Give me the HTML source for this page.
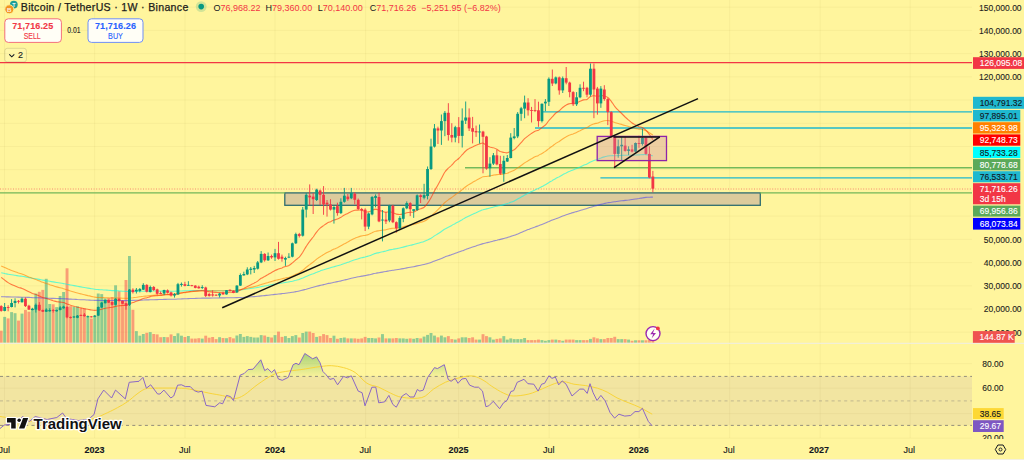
<!DOCTYPE html>
<html><head><meta charset="utf-8"><style>
html,body{margin:0;padding:0;width:1024px;height:460px;overflow:hidden;background:#FFF59D;}
svg{position:absolute;left:0;top:0;display:block;}
</style></head><body>
<svg width="1024" height="460" viewBox="0 0 1024 460">
<line x1="0" y1="332.2" x2="972" y2="332.2" stroke="rgba(120,110,40,0.055)" stroke-width="1"/>
<line x1="0" y1="309.0" x2="972" y2="309.0" stroke="rgba(120,110,40,0.055)" stroke-width="1"/>
<line x1="0" y1="285.8" x2="972" y2="285.8" stroke="rgba(120,110,40,0.055)" stroke-width="1"/>
<line x1="0" y1="262.6" x2="972" y2="262.6" stroke="rgba(120,110,40,0.055)" stroke-width="1"/>
<line x1="0" y1="239.3" x2="972" y2="239.3" stroke="rgba(120,110,40,0.055)" stroke-width="1"/>
<line x1="0" y1="216.1" x2="972" y2="216.1" stroke="rgba(120,110,40,0.055)" stroke-width="1"/>
<line x1="0" y1="192.9" x2="972" y2="192.9" stroke="rgba(120,110,40,0.055)" stroke-width="1"/>
<line x1="0" y1="169.7" x2="972" y2="169.7" stroke="rgba(120,110,40,0.055)" stroke-width="1"/>
<line x1="0" y1="146.5" x2="972" y2="146.5" stroke="rgba(120,110,40,0.055)" stroke-width="1"/>
<line x1="0" y1="123.3" x2="972" y2="123.3" stroke="rgba(120,110,40,0.055)" stroke-width="1"/>
<line x1="0" y1="100.0" x2="972" y2="100.0" stroke="rgba(120,110,40,0.055)" stroke-width="1"/>
<line x1="0" y1="76.8" x2="972" y2="76.8" stroke="rgba(120,110,40,0.055)" stroke-width="1"/>
<line x1="0" y1="53.6" x2="972" y2="53.6" stroke="rgba(120,110,40,0.055)" stroke-width="1"/>
<line x1="0" y1="30.4" x2="972" y2="30.4" stroke="rgba(120,110,40,0.055)" stroke-width="1"/>
<line x1="0" y1="7.2" x2="972" y2="7.2" stroke="rgba(120,110,40,0.055)" stroke-width="1"/>
<line x1="0" y1="363.7" x2="972" y2="363.7" stroke="rgba(120,110,40,0.055)" stroke-width="1"/>
<line x1="0" y1="388.2" x2="972" y2="388.2" stroke="rgba(120,110,40,0.055)" stroke-width="1"/>
<line x1="0" y1="413.6" x2="972" y2="413.6" stroke="rgba(120,110,40,0.055)" stroke-width="1"/>
<line x1="0" y1="438.2" x2="972" y2="438.2" stroke="rgba(120,110,40,0.055)" stroke-width="1"/>
<line x1="4.5" y1="0" x2="4.5" y2="438" stroke="rgba(120,110,40,0.055)" stroke-width="1"/>
<line x1="94.6" y1="0" x2="94.6" y2="438" stroke="rgba(120,110,40,0.055)" stroke-width="1"/>
<line x1="185" y1="0" x2="185" y2="438" stroke="rgba(120,110,40,0.055)" stroke-width="1"/>
<line x1="275" y1="0" x2="275" y2="438" stroke="rgba(120,110,40,0.055)" stroke-width="1"/>
<line x1="365.6" y1="0" x2="365.6" y2="438" stroke="rgba(120,110,40,0.055)" stroke-width="1"/>
<line x1="458.6" y1="0" x2="458.6" y2="438" stroke="rgba(120,110,40,0.055)" stroke-width="1"/>
<line x1="549.2" y1="0" x2="549.2" y2="438" stroke="rgba(120,110,40,0.055)" stroke-width="1"/>
<line x1="639.2" y1="0" x2="639.2" y2="438" stroke="rgba(120,110,40,0.055)" stroke-width="1"/>
<line x1="729.7" y1="0" x2="729.7" y2="438" stroke="rgba(120,110,40,0.055)" stroke-width="1"/>
<line x1="820.2" y1="0" x2="820.2" y2="438" stroke="rgba(120,110,40,0.055)" stroke-width="1"/>
<line x1="910.2" y1="0" x2="910.2" y2="438" stroke="rgba(120,110,40,0.055)" stroke-width="1"/>
<rect x="284.8" y="192.9" width="475.5" height="12.4" fill="#DCCB9C" stroke="#2F6E70" stroke-width="1.3"/>
<line x1="0" y1="62.7" x2="972" y2="62.7" stroke="#F23645" stroke-width="1.2"/>
<line x1="543" y1="111.9" x2="972" y2="111.9" stroke="#1FB8CF" stroke-width="1.4"/>
<line x1="535" y1="128" x2="972" y2="128" stroke="#1FB8CF" stroke-width="1.4"/>
<line x1="465" y1="167.8" x2="972" y2="167.8" stroke="#74B95B" stroke-width="1.4"/>
<line x1="600.4" y1="177.9" x2="972" y2="177.9" stroke="#1FB8CF" stroke-width="1.4"/>
<line x1="0" y1="192.9" x2="285" y2="192.9" stroke="#74B95B" stroke-width="1.4"/>
<line x1="760" y1="192.9" x2="972" y2="192.9" stroke="#74B95B" stroke-width="1.4"/>
<line x1="0" y1="189" x2="972" y2="189" stroke="#F58A70" stroke-width="1" stroke-dasharray="1,1.6"/>
<rect x="-0.26" y="330.7" width="2.9" height="12.1" fill="rgba(242,54,69,0.45)"/>
<rect x="3.21" y="316.9" width="2.9" height="25.9" fill="rgba(8,153,129,0.45)"/>
<rect x="6.68" y="318.4" width="2.9" height="24.4" fill="rgba(242,54,69,0.45)"/>
<rect x="10.14" y="312.1" width="2.9" height="30.7" fill="rgba(8,153,129,0.45)"/>
<rect x="13.61" y="313.2" width="2.9" height="29.6" fill="rgba(8,153,129,0.45)"/>
<rect x="17.07" y="320.6" width="2.9" height="22.2" fill="rgba(242,54,69,0.45)"/>
<rect x="20.54" y="313.6" width="2.9" height="29.2" fill="rgba(8,153,129,0.45)"/>
<rect x="24.01" y="309.9" width="2.9" height="32.9" fill="rgba(242,54,69,0.45)"/>
<rect x="27.47" y="311.7" width="2.9" height="31.1" fill="rgba(242,54,69,0.45)"/>
<rect x="30.94" y="309.0" width="2.9" height="33.8" fill="rgba(8,153,129,0.45)"/>
<rect x="34.41" y="293.6" width="2.9" height="49.2" fill="rgba(8,153,129,0.45)"/>
<rect x="37.87" y="291.8" width="2.9" height="51.0" fill="rgba(242,54,69,0.45)"/>
<rect x="41.34" y="289.9" width="2.9" height="52.9" fill="rgba(242,54,69,0.45)"/>
<rect x="44.80" y="278.8" width="2.9" height="64.0" fill="rgba(8,153,129,0.45)"/>
<rect x="48.27" y="304.0" width="2.9" height="38.8" fill="rgba(8,153,129,0.45)"/>
<rect x="51.74" y="304.3" width="2.9" height="38.5" fill="rgba(242,54,69,0.45)"/>
<rect x="55.20" y="307.1" width="2.9" height="35.7" fill="rgba(8,153,129,0.45)"/>
<rect x="58.67" y="296.0" width="2.9" height="46.8" fill="rgba(8,153,129,0.45)"/>
<rect x="62.14" y="292.0" width="2.9" height="50.8" fill="rgba(8,153,129,0.45)"/>
<rect x="65.60" y="268.3" width="2.9" height="74.5" fill="rgba(242,54,69,0.45)"/>
<rect x="69.07" y="306.2" width="2.9" height="36.6" fill="rgba(242,54,69,0.45)"/>
<rect x="72.53" y="306.8" width="2.9" height="36.0" fill="rgba(8,153,129,0.45)"/>
<rect x="76.00" y="306.2" width="2.9" height="36.6" fill="rgba(8,153,129,0.45)"/>
<rect x="79.47" y="308.2" width="2.9" height="34.6" fill="rgba(242,54,69,0.45)"/>
<rect x="82.93" y="308.2" width="2.9" height="34.6" fill="rgba(242,54,69,0.45)"/>
<rect x="86.40" y="316.6" width="2.9" height="26.2" fill="rgba(8,153,129,0.45)"/>
<rect x="89.87" y="318.6" width="2.9" height="24.2" fill="rgba(242,54,69,0.45)"/>
<rect x="93.33" y="316.0" width="2.9" height="26.8" fill="rgba(8,153,129,0.45)"/>
<rect x="96.80" y="293.5" width="2.9" height="49.3" fill="rgba(8,153,129,0.45)"/>
<rect x="100.27" y="294.1" width="2.9" height="48.7" fill="rgba(8,153,129,0.45)"/>
<rect x="103.73" y="298.4" width="2.9" height="44.4" fill="rgba(8,153,129,0.45)"/>
<rect x="107.20" y="298.0" width="2.9" height="44.8" fill="rgba(242,54,69,0.45)"/>
<rect x="110.66" y="297.0" width="2.9" height="45.8" fill="rgba(242,54,69,0.45)"/>
<rect x="114.13" y="285.3" width="2.9" height="57.5" fill="rgba(8,153,129,0.45)"/>
<rect x="117.60" y="291.2" width="2.9" height="51.6" fill="rgba(242,54,69,0.45)"/>
<rect x="121.06" y="300.0" width="2.9" height="42.8" fill="rgba(242,54,69,0.45)"/>
<rect x="124.53" y="280.0" width="2.9" height="62.8" fill="rgba(242,54,69,0.45)"/>
<rect x="128.00" y="256.0" width="2.9" height="86.8" fill="rgba(8,153,129,0.45)"/>
<rect x="131.46" y="309.8" width="2.9" height="33.0" fill="rgba(242,54,69,0.45)"/>
<rect x="134.93" y="331.1" width="2.9" height="11.7" fill="rgba(8,153,129,0.45)"/>
<rect x="138.39" y="335.7" width="2.9" height="7.1" fill="rgba(8,153,129,0.45)"/>
<rect x="141.86" y="334.0" width="2.9" height="8.8" fill="rgba(8,153,129,0.45)"/>
<rect x="145.33" y="332.8" width="2.9" height="10.0" fill="rgba(242,54,69,0.45)"/>
<rect x="148.79" y="332.1" width="2.9" height="10.7" fill="rgba(8,153,129,0.45)"/>
<rect x="152.26" y="334.0" width="2.9" height="8.8" fill="rgba(242,54,69,0.45)"/>
<rect x="155.73" y="334.4" width="2.9" height="8.4" fill="rgba(242,54,69,0.45)"/>
<rect x="159.19" y="337.2" width="2.9" height="5.6" fill="rgba(242,54,69,0.45)"/>
<rect x="162.66" y="337.0" width="2.9" height="5.8" fill="rgba(8,153,129,0.45)"/>
<rect x="166.12" y="337.2" width="2.9" height="5.6" fill="rgba(242,54,69,0.45)"/>
<rect x="169.59" y="334.4" width="2.9" height="8.4" fill="rgba(242,54,69,0.45)"/>
<rect x="173.06" y="336.0" width="2.9" height="6.8" fill="rgba(8,153,129,0.45)"/>
<rect x="176.52" y="333.3" width="2.9" height="9.5" fill="rgba(8,153,129,0.45)"/>
<rect x="179.99" y="335.7" width="2.9" height="7.1" fill="rgba(8,153,129,0.45)"/>
<rect x="183.46" y="337.0" width="2.9" height="5.8" fill="rgba(242,54,69,0.45)"/>
<rect x="186.92" y="336.0" width="2.9" height="6.8" fill="rgba(8,153,129,0.45)"/>
<rect x="190.39" y="338.6" width="2.9" height="4.2" fill="rgba(242,54,69,0.45)"/>
<rect x="193.86" y="338.6" width="2.9" height="4.2" fill="rgba(242,54,69,0.45)"/>
<rect x="197.32" y="338.2" width="2.9" height="4.6" fill="rgba(242,54,69,0.45)"/>
<rect x="200.79" y="338.6" width="2.9" height="4.2" fill="rgba(8,153,129,0.45)"/>
<rect x="204.25" y="335.7" width="2.9" height="7.1" fill="rgba(242,54,69,0.45)"/>
<rect x="207.72" y="337.7" width="2.9" height="5.1" fill="rgba(242,54,69,0.45)"/>
<rect x="211.19" y="337.0" width="2.9" height="5.8" fill="rgba(242,54,69,0.45)"/>
<rect x="214.65" y="339.1" width="2.9" height="3.7" fill="rgba(242,54,69,0.45)"/>
<rect x="218.12" y="337.2" width="2.9" height="5.6" fill="rgba(8,153,129,0.45)"/>
<rect x="221.59" y="338.0" width="2.9" height="4.8" fill="rgba(242,54,69,0.45)"/>
<rect x="225.05" y="338.2" width="2.9" height="4.6" fill="rgba(8,153,129,0.45)"/>
<rect x="228.52" y="337.1" width="2.9" height="5.7" fill="rgba(242,54,69,0.45)"/>
<rect x="231.98" y="338.4" width="2.9" height="4.4" fill="rgba(242,54,69,0.45)"/>
<rect x="235.45" y="335.5" width="2.9" height="7.3" fill="rgba(8,153,129,0.45)"/>
<rect x="238.92" y="334.0" width="2.9" height="8.8" fill="rgba(8,153,129,0.45)"/>
<rect x="242.38" y="336.9" width="2.9" height="5.9" fill="rgba(8,153,129,0.45)"/>
<rect x="245.85" y="336.1" width="2.9" height="6.7" fill="rgba(8,153,129,0.45)"/>
<rect x="249.32" y="336.9" width="2.9" height="5.9" fill="rgba(8,153,129,0.45)"/>
<rect x="252.78" y="337.5" width="2.9" height="5.3" fill="rgba(8,153,129,0.45)"/>
<rect x="256.25" y="337.5" width="2.9" height="5.3" fill="rgba(8,153,129,0.45)"/>
<rect x="259.72" y="335.1" width="2.9" height="7.7" fill="rgba(8,153,129,0.45)"/>
<rect x="263.18" y="335.5" width="2.9" height="7.3" fill="rgba(242,54,69,0.45)"/>
<rect x="266.65" y="336.9" width="2.9" height="5.9" fill="rgba(8,153,129,0.45)"/>
<rect x="270.11" y="337.5" width="2.9" height="5.3" fill="rgba(242,54,69,0.45)"/>
<rect x="273.58" y="335.1" width="2.9" height="7.7" fill="rgba(8,153,129,0.45)"/>
<rect x="277.05" y="331.6" width="2.9" height="11.2" fill="rgba(242,54,69,0.45)"/>
<rect x="280.51" y="336.9" width="2.9" height="5.9" fill="rgba(242,54,69,0.45)"/>
<rect x="283.98" y="336.1" width="2.9" height="6.7" fill="rgba(8,153,129,0.45)"/>
<rect x="287.45" y="338.0" width="2.9" height="4.8" fill="rgba(8,153,129,0.45)"/>
<rect x="290.91" y="336.1" width="2.9" height="6.7" fill="rgba(8,153,129,0.45)"/>
<rect x="294.38" y="335.1" width="2.9" height="7.7" fill="rgba(8,153,129,0.45)"/>
<rect x="297.84" y="337.5" width="2.9" height="5.3" fill="rgba(242,54,69,0.45)"/>
<rect x="301.31" y="333.0" width="2.9" height="9.8" fill="rgba(8,153,129,0.45)"/>
<rect x="304.78" y="331.6" width="2.9" height="11.2" fill="rgba(8,153,129,0.45)"/>
<rect x="308.24" y="331.6" width="2.9" height="11.2" fill="rgba(242,54,69,0.45)"/>
<rect x="311.71" y="333.0" width="2.9" height="9.8" fill="rgba(242,54,69,0.45)"/>
<rect x="315.18" y="336.9" width="2.9" height="5.9" fill="rgba(8,153,129,0.45)"/>
<rect x="318.64" y="336.1" width="2.9" height="6.7" fill="rgba(242,54,69,0.45)"/>
<rect x="322.11" y="334.1" width="2.9" height="8.7" fill="rgba(242,54,69,0.45)"/>
<rect x="325.57" y="335.1" width="2.9" height="7.7" fill="rgba(242,54,69,0.45)"/>
<rect x="329.04" y="338.0" width="2.9" height="4.8" fill="rgba(242,54,69,0.45)"/>
<rect x="332.51" y="335.7" width="2.9" height="7.1" fill="rgba(8,153,129,0.45)"/>
<rect x="335.97" y="338.8" width="2.9" height="4.0" fill="rgba(242,54,69,0.45)"/>
<rect x="339.44" y="338.0" width="2.9" height="4.8" fill="rgba(8,153,129,0.45)"/>
<rect x="342.91" y="337.5" width="2.9" height="5.3" fill="rgba(8,153,129,0.45)"/>
<rect x="346.37" y="338.4" width="2.9" height="4.4" fill="rgba(242,54,69,0.45)"/>
<rect x="349.84" y="338.4" width="2.9" height="4.4" fill="rgba(8,153,129,0.45)"/>
<rect x="353.31" y="338.4" width="2.9" height="4.4" fill="rgba(242,54,69,0.45)"/>
<rect x="356.77" y="338.8" width="2.9" height="4.0" fill="rgba(242,54,69,0.45)"/>
<rect x="360.24" y="338.4" width="2.9" height="4.4" fill="rgba(242,54,69,0.45)"/>
<rect x="363.70" y="336.9" width="2.9" height="5.9" fill="rgba(242,54,69,0.45)"/>
<rect x="367.17" y="338.0" width="2.9" height="4.8" fill="rgba(8,153,129,0.45)"/>
<rect x="370.64" y="338.0" width="2.9" height="4.8" fill="rgba(8,153,129,0.45)"/>
<rect x="374.10" y="338.4" width="2.9" height="4.4" fill="rgba(8,153,129,0.45)"/>
<rect x="377.57" y="337.5" width="2.9" height="5.3" fill="rgba(242,54,69,0.45)"/>
<rect x="381.04" y="334.1" width="2.9" height="8.7" fill="rgba(8,153,129,0.45)"/>
<rect x="384.50" y="338.4" width="2.9" height="4.4" fill="rgba(242,54,69,0.45)"/>
<rect x="387.97" y="338.4" width="2.9" height="4.4" fill="rgba(8,153,129,0.45)"/>
<rect x="391.43" y="338.4" width="2.9" height="4.4" fill="rgba(242,54,69,0.45)"/>
<rect x="394.90" y="338.0" width="2.9" height="4.8" fill="rgba(242,54,69,0.45)"/>
<rect x="398.37" y="338.4" width="2.9" height="4.4" fill="rgba(8,153,129,0.45)"/>
<rect x="401.83" y="338.4" width="2.9" height="4.4" fill="rgba(8,153,129,0.45)"/>
<rect x="405.30" y="338.8" width="2.9" height="4.0" fill="rgba(8,153,129,0.45)"/>
<rect x="408.77" y="338.4" width="2.9" height="4.4" fill="rgba(242,54,69,0.45)"/>
<rect x="412.23" y="338.8" width="2.9" height="4.0" fill="rgba(8,153,129,0.45)"/>
<rect x="415.70" y="338.0" width="2.9" height="4.8" fill="rgba(8,153,129,0.45)"/>
<rect x="419.16" y="338.4" width="2.9" height="4.4" fill="rgba(242,54,69,0.45)"/>
<rect x="422.63" y="336.6" width="2.9" height="6.2" fill="rgba(8,153,129,0.45)"/>
<rect x="426.10" y="334.9" width="2.9" height="7.9" fill="rgba(8,153,129,0.45)"/>
<rect x="429.56" y="333.0" width="2.9" height="9.8" fill="rgba(8,153,129,0.45)"/>
<rect x="433.03" y="335.6" width="2.9" height="7.2" fill="rgba(8,153,129,0.45)"/>
<rect x="436.50" y="337.3" width="2.9" height="5.5" fill="rgba(242,54,69,0.45)"/>
<rect x="439.96" y="335.6" width="2.9" height="7.2" fill="rgba(8,153,129,0.45)"/>
<rect x="443.43" y="337.3" width="2.9" height="5.5" fill="rgba(8,153,129,0.45)"/>
<rect x="446.90" y="336.1" width="2.9" height="6.7" fill="rgba(242,54,69,0.45)"/>
<rect x="450.36" y="339.1" width="2.9" height="3.7" fill="rgba(242,54,69,0.45)"/>
<rect x="453.83" y="339.6" width="2.9" height="3.2" fill="rgba(8,153,129,0.45)"/>
<rect x="457.29" y="338.4" width="2.9" height="4.4" fill="rgba(242,54,69,0.45)"/>
<rect x="460.76" y="337.3" width="2.9" height="5.5" fill="rgba(8,153,129,0.45)"/>
<rect x="464.23" y="337.3" width="2.9" height="5.5" fill="rgba(8,153,129,0.45)"/>
<rect x="467.69" y="338.0" width="2.9" height="4.8" fill="rgba(242,54,69,0.45)"/>
<rect x="471.16" y="337.3" width="2.9" height="5.5" fill="rgba(242,54,69,0.45)"/>
<rect x="474.63" y="339.6" width="2.9" height="3.2" fill="rgba(242,54,69,0.45)"/>
<rect x="478.09" y="339.6" width="2.9" height="3.2" fill="rgba(8,153,129,0.45)"/>
<rect x="481.56" y="334.2" width="2.9" height="8.6" fill="rgba(242,54,69,0.45)"/>
<rect x="485.02" y="336.1" width="2.9" height="6.7" fill="rgba(242,54,69,0.45)"/>
<rect x="488.49" y="337.3" width="2.9" height="5.5" fill="rgba(8,153,129,0.45)"/>
<rect x="491.96" y="339.6" width="2.9" height="3.2" fill="rgba(8,153,129,0.45)"/>
<rect x="495.42" y="338.9" width="2.9" height="3.9" fill="rgba(242,54,69,0.45)"/>
<rect x="498.89" y="338.4" width="2.9" height="4.4" fill="rgba(242,54,69,0.45)"/>
<rect x="502.36" y="336.1" width="2.9" height="6.7" fill="rgba(8,153,129,0.45)"/>
<rect x="505.82" y="339.6" width="2.9" height="3.2" fill="rgba(8,153,129,0.45)"/>
<rect x="509.29" y="338.4" width="2.9" height="4.4" fill="rgba(8,153,129,0.45)"/>
<rect x="512.75" y="339.1" width="2.9" height="3.7" fill="rgba(8,153,129,0.45)"/>
<rect x="516.22" y="339.1" width="2.9" height="3.7" fill="rgba(8,153,129,0.45)"/>
<rect x="519.69" y="339.1" width="2.9" height="3.7" fill="rgba(8,153,129,0.45)"/>
<rect x="523.15" y="338.0" width="2.9" height="4.8" fill="rgba(8,153,129,0.45)"/>
<rect x="526.62" y="340.1" width="2.9" height="2.7" fill="rgba(242,54,69,0.45)"/>
<rect x="530.09" y="340.1" width="2.9" height="2.7" fill="rgba(242,54,69,0.45)"/>
<rect x="533.55" y="340.1" width="2.9" height="2.7" fill="rgba(242,54,69,0.45)"/>
<rect x="537.02" y="339.6" width="2.9" height="3.2" fill="rgba(242,54,69,0.45)"/>
<rect x="540.49" y="340.1" width="2.9" height="2.7" fill="rgba(8,153,129,0.45)"/>
<rect x="543.95" y="340.8" width="2.9" height="2.0" fill="rgba(8,153,129,0.45)"/>
<rect x="547.42" y="340.1" width="2.9" height="2.7" fill="rgba(8,153,129,0.45)"/>
<rect x="550.88" y="339.6" width="2.9" height="3.2" fill="rgba(242,54,69,0.45)"/>
<rect x="554.35" y="339.6" width="2.9" height="3.2" fill="rgba(8,153,129,0.45)"/>
<rect x="557.82" y="340.1" width="2.9" height="2.7" fill="rgba(242,54,69,0.45)"/>
<rect x="561.28" y="340.8" width="2.9" height="2.0" fill="rgba(8,153,129,0.45)"/>
<rect x="564.75" y="339.6" width="2.9" height="3.2" fill="rgba(242,54,69,0.45)"/>
<rect x="568.22" y="339.6" width="2.9" height="3.2" fill="rgba(242,54,69,0.45)"/>
<rect x="571.68" y="339.6" width="2.9" height="3.2" fill="rgba(242,54,69,0.45)"/>
<rect x="575.15" y="340.1" width="2.9" height="2.7" fill="rgba(8,153,129,0.45)"/>
<rect x="578.61" y="340.1" width="2.9" height="2.7" fill="rgba(8,153,129,0.45)"/>
<rect x="582.08" y="340.1" width="2.9" height="2.7" fill="rgba(242,54,69,0.45)"/>
<rect x="585.55" y="340.1" width="2.9" height="2.7" fill="rgba(242,54,69,0.45)"/>
<rect x="589.01" y="338.9" width="2.9" height="3.9" fill="rgba(8,153,129,0.45)"/>
<rect x="592.48" y="337.3" width="2.9" height="5.5" fill="rgba(242,54,69,0.45)"/>
<rect x="595.95" y="338.4" width="2.9" height="4.4" fill="rgba(242,54,69,0.45)"/>
<rect x="599.41" y="339.1" width="2.9" height="3.7" fill="rgba(8,153,129,0.45)"/>
<rect x="602.88" y="339.1" width="2.9" height="3.7" fill="rgba(242,54,69,0.45)"/>
<rect x="606.35" y="338.0" width="2.9" height="4.8" fill="rgba(242,54,69,0.45)"/>
<rect x="609.81" y="338.0" width="2.9" height="4.8" fill="rgba(242,54,69,0.45)"/>
<rect x="613.28" y="336.8" width="2.9" height="6.0" fill="rgba(242,54,69,0.45)"/>
<rect x="616.74" y="339.1" width="2.9" height="3.7" fill="rgba(8,153,129,0.45)"/>
<rect x="620.21" y="339.1" width="2.9" height="3.7" fill="rgba(8,153,129,0.45)"/>
<rect x="623.68" y="339.1" width="2.9" height="3.7" fill="rgba(242,54,69,0.45)"/>
<rect x="627.14" y="339.6" width="2.9" height="3.2" fill="rgba(8,153,129,0.45)"/>
<rect x="630.61" y="340.8" width="2.9" height="2.0" fill="rgba(242,54,69,0.45)"/>
<rect x="634.08" y="340.3" width="2.9" height="2.5" fill="rgba(8,153,129,0.45)"/>
<rect x="637.54" y="340.3" width="2.9" height="2.5" fill="rgba(242,54,69,0.45)"/>
<rect x="641.01" y="340.3" width="2.9" height="2.5" fill="rgba(8,153,129,0.45)"/>
<rect x="644.47" y="340.3" width="2.9" height="2.5" fill="rgba(242,54,69,0.45)"/>
<rect x="647.94" y="340.0" width="2.9" height="2.8" fill="rgba(242,54,69,0.45)"/>
<rect x="651.41" y="340.5" width="2.9" height="2.3" fill="rgba(242,54,69,0.45)"/>
<path d="M1.2,296.6 C1.8,296.7 3.5,296.7 4.7,296.8 C5.8,296.8 7.0,296.9 8.1,296.9 C9.3,296.9 10.4,296.9 11.6,297.0 C12.7,297.0 13.9,297.0 15.1,297.0 C16.2,297.1 17.4,297.1 18.5,297.1 C19.7,297.1 20.8,297.1 22.0,297.2 C23.1,297.2 24.3,297.2 25.5,297.3 C26.6,297.3 27.8,297.4 28.9,297.4 C30.1,297.5 31.2,297.5 32.4,297.6 C33.5,297.6 34.7,297.6 35.9,297.7 C37.0,297.7 38.2,297.8 39.3,297.8 C40.5,297.9 41.6,297.9 42.8,298.0 C43.9,298.0 45.1,298.1 46.3,298.1 C47.4,298.2 48.6,298.2 49.7,298.3 C50.9,298.3 52.0,298.4 53.2,298.4 C54.3,298.5 55.5,298.5 56.7,298.5 C57.8,298.6 59.0,298.6 60.1,298.6 C61.3,298.7 62.4,298.7 63.6,298.7 C64.7,298.8 65.9,298.9 67.1,298.9 C68.2,299.0 69.4,299.1 70.5,299.1 C71.7,299.2 72.8,299.3 74.0,299.3 C75.1,299.4 76.3,299.4 77.5,299.5 C78.6,299.5 79.8,299.6 80.9,299.7 C82.1,299.7 83.2,299.8 84.4,299.8 C85.5,299.9 86.7,300.0 87.9,300.0 C89.0,300.1 90.2,300.1 91.3,300.2 C92.5,300.3 93.6,300.3 94.8,300.4 C95.9,300.4 97.1,300.4 98.2,300.4 C99.4,300.5 100.6,300.5 101.7,300.5 C102.9,300.5 104.0,300.5 105.2,300.5 C106.3,300.5 107.5,300.5 108.6,300.5 C109.8,300.5 111.0,300.5 112.1,300.5 C113.3,300.6 114.4,300.5 115.6,300.5 C116.7,300.5 117.9,300.5 119.0,300.5 C120.2,300.6 121.4,300.6 122.5,300.6 C123.7,300.6 124.8,300.6 126.0,300.6 C127.1,300.6 128.3,300.6 129.4,300.5 C130.6,300.5 131.8,300.5 132.9,300.4 C134.1,300.4 135.2,300.4 136.4,300.3 C137.5,300.3 138.7,300.2 139.8,300.2 C141.0,300.1 142.2,300.1 143.3,300.0 C144.5,300.0 145.6,300.0 146.8,299.9 C147.9,299.9 149.1,299.8 150.2,299.8 C151.4,299.7 152.6,299.7 153.7,299.7 C154.9,299.6 156.0,299.6 157.2,299.6 C158.3,299.6 159.5,299.5 160.6,299.5 C161.8,299.5 163.0,299.4 164.1,299.4 C165.3,299.4 166.4,299.3 167.6,299.3 C168.7,299.3 169.9,299.3 171.0,299.3 C172.2,299.2 173.4,299.2 174.5,299.2 C175.7,299.2 176.8,299.1 178.0,299.0 C179.1,299.0 180.3,298.9 181.4,298.9 C182.6,298.8 183.8,298.8 184.9,298.8 C186.1,298.7 187.2,298.7 188.4,298.6 C189.5,298.6 190.7,298.5 191.8,298.5 C193.0,298.4 194.1,298.4 195.3,298.4 C196.5,298.3 197.6,298.3 198.8,298.3 C199.9,298.2 201.1,298.2 202.2,298.1 C203.4,298.1 204.5,298.1 205.7,298.1 C206.9,298.1 208.0,298.1 209.2,298.1 C210.3,298.0 211.5,298.0 212.6,298.0 C213.8,298.0 214.9,298.0 216.1,298.0 C217.3,298.0 218.4,297.9 219.6,297.9 C220.7,297.9 221.9,297.9 223.0,297.9 C224.2,297.9 225.3,297.8 226.5,297.8 C227.7,297.8 228.8,297.8 230.0,297.8 C231.1,297.7 232.3,297.7 233.4,297.7 C234.6,297.7 235.7,297.7 236.9,297.6 C238.1,297.6 239.2,297.5 240.4,297.5 C241.5,297.4 242.7,297.3 243.8,297.3 C245.0,297.2 246.1,297.1 247.3,297.1 C248.5,297.0 249.6,296.9 250.8,296.8 C251.9,296.8 253.1,296.7 254.2,296.6 C255.4,296.5 256.5,296.4 257.7,296.3 C258.9,296.2 260.0,296.0 261.2,295.9 C262.3,295.8 263.5,295.7 264.6,295.6 C265.8,295.5 266.9,295.3 268.1,295.2 C269.3,295.1 270.4,295.0 271.6,294.8 C272.7,294.7 273.9,294.5 275.0,294.4 C276.2,294.3 277.3,294.2 278.5,294.0 C279.7,293.9 280.8,293.8 282.0,293.6 C283.1,293.5 284.3,293.4 285.4,293.2 C286.6,293.1 287.7,293.0 288.9,292.8 C290.1,292.6 291.2,292.5 292.4,292.3 C293.5,292.1 294.7,291.8 295.8,291.6 C297.0,291.4 298.1,291.3 299.3,291.0 C300.4,290.8 301.6,290.5 302.8,290.1 C303.9,289.8 305.1,289.5 306.2,289.2 C307.4,288.8 308.5,288.5 309.7,288.2 C310.8,287.9 312.0,287.6 313.2,287.3 C314.3,287.0 315.5,286.6 316.6,286.3 C317.8,286.0 318.9,285.7 320.1,285.4 C321.2,285.1 322.4,284.9 323.6,284.6 C324.7,284.3 325.9,284.1 327.0,283.8 C328.2,283.5 329.3,283.3 330.5,283.1 C331.6,282.8 332.8,282.6 334.0,282.3 C335.1,282.1 336.3,281.9 337.4,281.6 C338.6,281.4 339.7,281.1 340.9,280.9 C342.0,280.6 343.2,280.3 344.4,280.0 C345.5,279.7 346.7,279.5 347.8,279.2 C349.0,278.9 350.1,278.6 351.3,278.3 C352.4,278.1 353.6,277.8 354.8,277.5 C355.9,277.3 357.1,277.1 358.2,276.8 C359.4,276.6 360.5,276.3 361.7,276.1 C362.8,275.9 364.0,275.8 365.2,275.6 C366.3,275.4 367.5,275.2 368.6,274.9 C369.8,274.7 370.9,274.4 372.1,274.1 C373.2,273.8 374.4,273.5 375.6,273.3 C376.7,273.0 377.9,272.9 379.0,272.7 C380.2,272.5 381.3,272.3 382.5,272.1 C383.6,271.9 384.8,271.7 386.0,271.5 C387.1,271.3 388.3,271.0 389.4,270.8 C390.6,270.6 391.7,270.5 392.9,270.3 C394.0,270.1 395.2,270.0 396.4,269.8 C397.5,269.6 398.7,269.4 399.8,269.2 C401.0,269.0 402.1,268.8 403.3,268.6 C404.4,268.4 405.6,268.1 406.7,267.9 C407.9,267.7 409.1,267.5 410.2,267.3 C411.4,267.1 412.5,266.9 413.7,266.7 C414.8,266.5 416.0,266.2 417.1,265.9 C418.3,265.7 419.5,265.5 420.6,265.2 C421.8,265.0 422.9,264.8 424.1,264.5 C425.2,264.2 426.4,263.9 427.5,263.6 C428.7,263.2 429.9,262.8 431.0,262.4 C432.2,262.0 433.3,261.5 434.5,261.0 C435.6,260.6 436.8,260.2 437.9,259.7 C439.1,259.3 440.3,258.8 441.4,258.4 C442.6,257.9 443.7,257.4 444.9,256.9 C446.0,256.5 447.2,256.1 448.3,255.7 C449.5,255.3 450.7,255.0 451.8,254.5 C453.0,254.1 454.1,253.7 455.3,253.3 C456.4,252.9 457.6,252.5 458.7,252.1 C459.9,251.7 461.1,251.2 462.2,250.8 C463.4,250.4 464.5,249.9 465.7,249.5 C466.8,249.0 468.0,248.6 469.1,248.2 C470.3,247.8 471.5,247.5 472.6,247.1 C473.8,246.7 474.9,246.3 476.1,245.9 C477.2,245.5 478.4,245.1 479.5,244.7 C480.7,244.3 481.9,243.9 483.0,243.6 C484.2,243.3 485.3,243.1 486.5,242.8 C487.6,242.5 488.8,242.3 489.9,242.0 C491.1,241.7 492.3,241.3 493.4,241.0 C494.6,240.7 495.7,240.4 496.9,240.2 C498.0,239.9 499.2,239.7 500.3,239.4 C501.5,239.1 502.7,238.8 503.8,238.5 C505.0,238.2 506.1,237.9 507.3,237.6 C508.4,237.2 509.6,236.8 510.7,236.4 C511.9,236.1 513.0,235.7 514.2,235.3 C515.4,234.9 516.5,234.4 517.7,233.9 C518.8,233.4 520.0,233.0 521.1,232.5 C522.3,232.0 523.4,231.5 524.6,231.0 C525.8,230.5 526.9,230.1 528.1,229.6 C529.2,229.2 530.4,228.7 531.5,228.3 C532.7,227.8 533.8,227.4 535.0,227.0 C536.2,226.5 537.3,226.2 538.5,225.8 C539.6,225.3 540.8,224.9 541.9,224.4 C543.1,224.0 544.2,223.6 545.4,223.1 C546.6,222.6 547.7,222.1 548.9,221.6 C550.0,221.1 551.2,220.6 552.3,220.1 C553.5,219.6 554.6,219.1 555.8,218.7 C557.0,218.2 558.1,217.8 559.3,217.4 C560.4,217.0 561.6,216.5 562.7,216.0 C563.9,215.6 565.0,215.2 566.2,214.8 C567.4,214.4 568.5,214.0 569.7,213.6 C570.8,213.3 572.0,213.0 573.1,212.6 C574.3,212.3 575.4,212.0 576.6,211.6 C577.8,211.3 578.9,210.9 580.1,210.5 C581.2,210.2 582.4,209.8 583.5,209.5 C584.7,209.1 585.8,208.9 587.0,208.5 C588.2,208.1 589.3,207.6 590.5,207.3 C591.6,206.9 592.8,206.6 593.9,206.3 C595.1,205.9 596.2,205.7 597.4,205.4 C598.6,205.1 599.7,204.7 600.9,204.4 C602.0,204.1 603.2,203.8 604.3,203.5 C605.5,203.2 606.6,202.9 607.8,202.7 C609.0,202.5 610.1,202.3 611.3,202.2 C612.4,202.0 613.6,201.9 614.7,201.8 C615.9,201.6 617.0,201.5 618.2,201.3 C619.3,201.2 620.5,201.0 621.7,200.8 C622.8,200.7 624.0,200.6 625.1,200.4 C626.3,200.3 627.4,200.1 628.6,200.0 C629.7,199.8 630.9,199.7 632.1,199.5 C633.2,199.4 634.4,199.2 635.5,199.0 C636.7,198.8 637.8,198.6 639.0,198.5 C640.1,198.3 641.3,198.0 642.5,197.9 C643.6,197.7 644.8,197.5 645.9,197.4 C647.1,197.3 648.2,197.3 649.4,197.2 C650.5,197.2 652.3,197.1 652.9,197.1" fill="none" stroke="rgba(70,60,240,0.55)" stroke-width="1.1"/>
<path d="M1.2,272.8 C1.8,272.9 3.5,273.3 4.7,273.5 C5.8,273.7 7.0,274.0 8.1,274.2 C9.3,274.4 10.4,274.6 11.6,274.8 C12.7,275.0 13.9,275.1 15.1,275.3 C16.2,275.5 17.4,275.7 18.5,275.9 C19.7,276.0 20.8,276.1 22.0,276.3 C23.1,276.5 24.3,276.7 25.5,276.9 C26.6,277.1 27.8,277.4 28.9,277.6 C30.1,277.8 31.2,278.0 32.4,278.2 C33.5,278.4 34.7,278.6 35.9,278.8 C37.0,279.0 38.2,279.2 39.3,279.4 C40.5,279.6 41.6,279.9 42.8,280.1 C43.9,280.3 45.1,280.5 46.3,280.7 C47.4,280.9 48.6,281.1 49.7,281.3 C50.9,281.5 52.0,281.7 53.2,281.9 C54.3,282.1 55.5,282.3 56.7,282.5 C57.8,282.7 59.0,282.9 60.1,283.0 C61.3,283.2 62.4,283.4 63.6,283.6 C64.7,283.8 65.9,284.0 67.1,284.3 C68.2,284.5 69.4,284.8 70.5,285.0 C71.7,285.2 72.8,285.4 74.0,285.6 C75.1,285.9 76.3,286.1 77.5,286.3 C78.6,286.5 79.8,286.7 80.9,286.9 C82.1,287.1 83.2,287.3 84.4,287.5 C85.5,287.7 86.7,287.9 87.9,288.1 C89.0,288.3 90.2,288.5 91.3,288.7 C92.5,288.9 93.6,289.1 94.8,289.2 C95.9,289.4 97.1,289.5 98.2,289.6 C99.4,289.7 100.6,289.8 101.7,289.8 C102.9,289.9 104.0,290.0 105.2,290.0 C106.3,290.1 107.5,290.2 108.6,290.3 C109.8,290.4 111.0,290.5 112.1,290.6 C113.3,290.6 114.4,290.7 115.6,290.7 C116.7,290.8 117.9,290.8 119.0,290.9 C120.2,291.0 121.4,291.1 122.5,291.2 C123.7,291.2 124.8,291.4 126.0,291.4 C127.1,291.5 128.3,291.4 129.4,291.4 C130.6,291.4 131.8,291.4 132.9,291.4 C134.1,291.4 135.2,291.4 136.4,291.4 C137.5,291.3 138.7,291.3 139.8,291.3 C141.0,291.3 142.2,291.2 143.3,291.2 C144.5,291.1 145.6,291.2 146.8,291.2 C147.9,291.2 149.1,291.1 150.2,291.1 C151.4,291.1 152.6,291.0 153.7,291.0 C154.9,291.0 156.0,291.1 157.2,291.1 C158.3,291.1 159.5,291.1 160.6,291.1 C161.8,291.1 163.0,291.1 164.1,291.1 C165.3,291.1 166.4,291.1 167.6,291.1 C168.7,291.1 169.9,291.2 171.0,291.2 C172.2,291.2 173.4,291.3 174.5,291.2 C175.7,291.2 176.8,291.2 178.0,291.1 C179.1,291.1 180.3,291.0 181.4,291.0 C182.6,290.9 183.8,290.9 184.9,290.8 C186.1,290.8 187.2,290.8 188.4,290.7 C189.5,290.7 190.7,290.6 191.8,290.6 C193.0,290.6 194.1,290.6 195.3,290.6 C196.5,290.5 197.6,290.5 198.8,290.5 C199.9,290.5 201.1,290.4 202.2,290.4 C203.4,290.4 204.5,290.5 205.7,290.5 C206.9,290.5 208.0,290.6 209.2,290.6 C210.3,290.6 211.5,290.6 212.6,290.7 C213.8,290.7 214.9,290.7 216.1,290.7 C217.3,290.7 218.4,290.7 219.6,290.7 C220.7,290.7 221.9,290.7 223.0,290.7 C224.2,290.7 225.3,290.7 226.5,290.6 C227.7,290.6 228.8,290.6 230.0,290.6 C231.1,290.6 232.3,290.6 233.4,290.5 C234.6,290.5 235.7,290.4 236.9,290.3 C238.1,290.2 239.2,290.1 240.4,289.9 C241.5,289.8 242.7,289.7 243.8,289.5 C245.0,289.4 246.1,289.2 247.3,289.0 C248.5,288.9 249.6,288.7 250.8,288.5 C251.9,288.4 253.1,288.2 254.2,288.0 C255.4,287.8 256.5,287.6 257.7,287.4 C258.9,287.2 260.0,286.9 261.2,286.6 C262.3,286.4 263.5,286.3 264.6,286.0 C265.8,285.8 266.9,285.6 268.1,285.4 C269.3,285.1 270.4,284.9 271.6,284.7 C272.7,284.5 273.9,284.2 275.0,284.0 C276.2,283.8 277.3,283.7 278.5,283.5 C279.7,283.3 280.8,283.1 282.0,283.0 C283.1,282.8 284.3,282.6 285.4,282.4 C286.6,282.3 287.7,282.1 288.9,281.9 C290.1,281.7 291.2,281.4 292.4,281.2 C293.5,280.9 294.7,280.5 295.8,280.3 C297.0,280.0 298.1,279.8 299.3,279.4 C300.4,279.1 301.6,278.6 302.8,278.1 C303.9,277.6 305.1,277.1 306.2,276.6 C307.4,276.1 308.5,275.6 309.7,275.1 C310.8,274.7 312.0,274.2 313.2,273.8 C314.3,273.3 315.5,272.7 316.6,272.3 C317.8,271.8 318.9,271.3 320.1,270.9 C321.2,270.5 322.4,270.2 323.6,269.8 C324.7,269.4 325.9,269.0 327.0,268.7 C328.2,268.4 329.3,268.1 330.5,267.7 C331.6,267.4 332.8,267.0 334.0,266.7 C335.1,266.4 336.3,266.2 337.4,265.8 C338.6,265.5 339.7,265.1 340.9,264.7 C342.0,264.3 343.2,263.9 344.4,263.5 C345.5,263.1 346.7,262.7 347.8,262.3 C349.0,261.9 350.1,261.4 351.3,261.0 C352.4,260.6 353.6,260.2 354.8,259.8 C355.9,259.4 357.1,259.1 358.2,258.8 C359.4,258.4 360.5,258.0 361.7,257.7 C362.8,257.4 364.0,257.3 365.2,257.0 C366.3,256.7 367.5,256.4 368.6,256.0 C369.8,255.6 370.9,255.2 372.1,254.7 C373.2,254.3 374.4,253.7 375.6,253.4 C376.7,253.0 377.9,252.9 379.0,252.6 C380.2,252.3 381.3,252.0 382.5,251.8 C383.6,251.5 384.8,251.3 386.0,251.0 C387.1,250.7 388.3,250.2 389.4,249.9 C390.6,249.7 391.7,249.5 392.9,249.3 C394.0,249.0 395.2,248.9 396.4,248.7 C397.5,248.5 398.7,248.3 399.8,248.0 C401.0,247.7 402.1,247.4 403.3,247.1 C404.4,246.8 405.6,246.4 406.7,246.1 C407.9,245.8 409.1,245.6 410.2,245.3 C411.4,245.1 412.5,244.8 413.7,244.5 C414.8,244.2 416.0,243.8 417.1,243.5 C418.3,243.2 419.5,242.9 420.6,242.5 C421.8,242.2 422.9,242.0 424.1,241.5 C425.2,241.1 426.4,240.6 427.5,240.1 C428.7,239.5 429.9,238.8 431.0,238.2 C432.2,237.5 433.3,236.7 434.5,235.9 C435.6,235.2 436.8,234.5 437.9,233.8 C439.1,233.1 440.3,232.3 441.4,231.5 C442.6,230.7 443.7,229.8 444.9,229.1 C446.0,228.4 447.2,227.8 448.3,227.2 C449.5,226.6 450.7,226.0 451.8,225.4 C453.0,224.8 454.1,224.0 455.3,223.4 C456.4,222.8 457.6,222.3 458.7,221.7 C459.9,221.0 461.1,220.3 462.2,219.7 C463.4,219.0 464.5,218.3 465.7,217.6 C466.8,217.0 468.0,216.5 469.1,215.9 C470.3,215.3 471.5,214.8 472.6,214.3 C473.8,213.7 474.9,213.2 476.1,212.7 C477.2,212.1 478.4,211.6 479.5,211.1 C480.7,210.6 481.9,210.0 483.0,209.7 C484.2,209.3 485.3,209.2 486.5,208.9 C487.6,208.6 488.8,208.3 489.9,208.0 C491.1,207.7 492.3,207.3 493.4,207.0 C494.6,206.7 495.7,206.4 496.9,206.1 C498.0,205.9 499.2,205.7 500.3,205.5 C501.5,205.2 502.7,204.9 503.8,204.6 C505.0,204.3 506.1,204.0 507.3,203.6 C508.4,203.2 509.6,202.7 510.7,202.2 C511.9,201.8 513.0,201.4 514.2,200.9 C515.4,200.3 516.5,199.7 517.7,199.0 C518.8,198.4 520.0,197.8 521.1,197.1 C522.3,196.5 523.4,195.8 524.6,195.1 C525.8,194.5 526.9,193.9 528.1,193.3 C529.2,192.7 530.4,192.2 531.5,191.6 C532.7,191.0 533.8,190.4 535.0,189.9 C536.2,189.3 537.3,188.9 538.5,188.4 C539.6,187.8 540.8,187.2 541.9,186.6 C543.1,186.0 544.2,185.5 545.4,184.8 C546.6,184.2 547.7,183.3 548.9,182.6 C550.0,181.9 551.2,181.3 552.3,180.6 C553.5,179.9 554.6,179.2 555.8,178.5 C557.0,177.9 558.1,177.3 559.3,176.7 C560.4,176.1 561.6,175.4 562.7,174.7 C563.9,174.1 565.0,173.5 566.2,172.9 C567.4,172.3 568.5,171.8 569.7,171.3 C570.8,170.8 572.0,170.4 573.1,169.9 C574.3,169.5 575.4,169.0 576.6,168.5 C577.8,168.0 578.9,167.4 580.1,166.9 C581.2,166.3 582.4,165.8 583.5,165.3 C584.7,164.8 585.8,164.5 587.0,163.9 C588.2,163.4 589.3,162.6 590.5,162.0 C591.6,161.5 592.8,161.0 593.9,160.6 C595.1,160.2 596.2,159.9 597.4,159.5 C598.6,159.0 599.7,158.5 600.9,158.1 C602.0,157.6 603.2,157.2 604.3,156.9 C605.5,156.6 606.6,156.2 607.8,156.0 C609.0,155.8 610.1,155.8 611.3,155.7 C612.4,155.6 613.6,155.7 614.7,155.7 C615.9,155.7 617.0,155.6 618.2,155.5 C619.3,155.5 620.5,155.4 621.7,155.4 C622.8,155.3 624.0,155.3 625.1,155.3 C626.3,155.3 627.4,155.3 628.6,155.3 C629.7,155.2 630.9,155.3 632.1,155.2 C633.2,155.2 634.4,155.1 635.5,155.0 C636.7,155.0 637.8,155.0 639.0,154.9 C640.1,154.8 641.3,154.6 642.5,154.6 C643.6,154.6 644.8,154.5 645.9,154.6 C647.1,154.7 648.2,154.9 649.4,155.1 C650.5,155.3 652.3,155.7 652.9,155.8" fill="none" stroke="rgba(0,250,235,0.6)" stroke-width="1.1"/>
<path d="M1.2,265.9 C1.8,266.2 3.5,267.0 4.7,267.5 C5.8,268.0 7.0,268.6 8.1,269.1 C9.3,269.6 10.4,270.0 11.6,270.5 C12.7,270.9 13.9,271.3 15.1,271.7 C16.2,272.1 17.4,272.6 18.5,273.0 C19.7,273.4 20.8,273.7 22.0,274.1 C23.1,274.5 24.3,275.0 25.5,275.4 C26.6,275.9 27.8,276.4 28.9,276.9 C30.1,277.4 31.2,277.8 32.4,278.3 C33.5,278.7 34.7,279.0 35.9,279.5 C37.0,279.9 38.2,280.4 39.3,280.8 C40.5,281.3 41.6,281.8 42.8,282.2 C43.9,282.7 45.1,283.0 46.3,283.5 C47.4,283.9 48.6,284.3 49.7,284.7 C50.9,285.0 52.0,285.5 53.2,285.8 C54.3,286.2 55.5,286.6 56.7,286.9 C57.8,287.2 59.0,287.5 60.1,287.8 C61.3,288.1 62.4,288.3 63.6,288.7 C64.7,289.0 65.9,289.5 67.1,289.9 C68.2,290.2 69.4,290.6 70.5,291.0 C71.7,291.4 72.8,291.7 74.0,292.0 C75.1,292.4 76.3,292.7 77.5,293.0 C78.6,293.3 79.8,293.6 80.9,293.9 C82.1,294.2 83.2,294.5 84.4,294.7 C85.5,295.0 86.7,295.3 87.9,295.6 C89.0,295.8 90.2,296.1 91.3,296.4 C92.5,296.6 93.6,296.9 94.8,297.1 C95.9,297.3 97.1,297.4 98.2,297.5 C99.4,297.5 100.6,297.6 101.7,297.6 C102.9,297.7 104.0,297.6 105.2,297.7 C106.3,297.7 107.5,297.7 108.6,297.8 C109.8,297.9 111.0,298.0 112.1,298.0 C113.3,298.1 114.4,298.0 115.6,298.0 C116.7,298.0 117.9,298.0 119.0,298.0 C120.2,298.1 121.4,298.1 122.5,298.2 C123.7,298.2 124.8,298.4 126.0,298.4 C127.1,298.4 128.3,298.1 129.4,298.0 C130.6,297.9 131.8,297.8 132.9,297.7 C134.1,297.5 135.2,297.4 136.4,297.3 C137.5,297.1 138.7,297.0 139.8,296.8 C141.0,296.7 142.2,296.4 143.3,296.3 C144.5,296.1 145.6,296.1 146.8,296.0 C147.9,295.9 149.1,295.7 150.2,295.5 C151.4,295.4 152.6,295.3 153.7,295.2 C154.9,295.1 156.0,295.1 157.2,295.0 C158.3,295.0 159.5,294.9 160.6,294.9 C161.8,294.8 163.0,294.6 164.1,294.5 C165.3,294.4 166.4,294.4 167.6,294.3 C168.7,294.3 169.9,294.3 171.0,294.2 C172.2,294.2 173.4,294.2 174.5,294.1 C175.7,294.0 176.8,293.7 178.0,293.6 C179.1,293.4 180.3,293.2 181.4,293.0 C182.6,292.9 183.8,292.7 184.9,292.6 C186.1,292.4 187.2,292.3 188.4,292.1 C189.5,292.0 190.7,291.8 191.8,291.7 C193.0,291.6 194.1,291.5 195.3,291.4 C196.5,291.3 197.6,291.2 198.8,291.1 C199.9,291.0 201.1,290.8 202.2,290.8 C203.4,290.7 204.5,290.8 205.7,290.8 C206.9,290.8 208.0,290.8 209.2,290.8 C210.3,290.8 211.5,290.8 212.6,290.8 C213.8,290.8 214.9,290.9 216.1,290.8 C217.3,290.8 218.4,290.8 219.6,290.8 C220.7,290.8 221.9,290.8 223.0,290.8 C224.2,290.8 225.3,290.7 226.5,290.7 C227.7,290.6 228.8,290.6 230.0,290.6 C231.1,290.5 232.3,290.6 233.4,290.6 C234.6,290.5 235.7,290.5 236.9,290.3 C238.1,290.1 239.2,289.9 240.4,289.6 C241.5,289.4 242.7,289.2 243.8,289.0 C245.0,288.7 246.1,288.5 247.3,288.2 C248.5,287.9 249.6,287.7 250.8,287.4 C251.9,287.2 253.1,286.9 254.2,286.6 C255.4,286.4 256.5,286.1 257.7,285.7 C258.9,285.3 260.0,284.8 261.2,284.5 C262.3,284.1 263.5,283.9 264.6,283.5 C265.8,283.2 266.9,282.8 268.1,282.5 C269.3,282.1 270.4,281.8 271.6,281.5 C272.7,281.2 273.9,280.7 275.0,280.4 C276.2,280.1 277.3,279.9 278.5,279.6 C279.7,279.3 280.8,279.1 282.0,278.8 C283.1,278.5 284.3,278.3 285.4,278.0 C286.6,277.7 287.7,277.5 288.9,277.2 C290.1,276.8 291.2,276.4 292.4,275.9 C293.5,275.4 294.7,274.8 295.8,274.2 C297.0,273.7 298.1,273.4 299.3,272.8 C300.4,272.1 301.6,271.2 302.8,270.3 C303.9,269.4 305.1,268.3 306.2,267.3 C307.4,266.4 308.5,265.5 309.7,264.6 C310.8,263.7 312.0,262.9 313.2,262.0 C314.3,261.1 315.5,260.1 316.6,259.2 C317.8,258.3 318.9,257.4 320.1,256.7 C321.2,255.9 322.4,255.3 323.6,254.6 C324.7,253.9 325.9,253.2 327.0,252.6 C328.2,252.0 329.3,251.5 330.5,250.9 C331.6,250.3 332.8,249.7 334.0,249.1 C335.1,248.6 336.3,248.2 337.4,247.7 C338.6,247.1 339.7,246.5 340.9,245.8 C342.0,245.2 343.2,244.4 344.4,243.8 C345.5,243.1 346.7,242.6 347.8,242.0 C349.0,241.3 350.1,240.6 351.3,240.0 C352.4,239.3 353.6,238.8 354.8,238.3 C355.9,237.8 357.1,237.4 358.2,237.0 C359.4,236.6 360.5,236.1 361.7,235.9 C362.8,235.6 364.0,235.6 365.2,235.4 C366.3,235.1 367.5,234.8 368.6,234.4 C369.8,234.0 370.9,233.3 372.1,232.8 C373.2,232.3 374.4,231.6 375.6,231.3 C376.7,230.9 377.9,230.9 379.0,230.7 C380.2,230.6 381.3,230.4 382.5,230.2 C383.6,230.0 384.8,230.0 386.0,229.7 C387.1,229.5 388.3,228.9 389.4,228.7 C390.6,228.4 391.7,228.4 392.9,228.3 C394.0,228.2 395.2,228.3 396.4,228.2 C397.5,228.1 398.7,227.9 399.8,227.7 C401.0,227.5 402.1,227.2 403.3,226.9 C404.4,226.6 405.6,226.2 406.7,225.9 C407.9,225.6 409.1,225.4 410.2,225.2 C411.4,225.0 412.5,224.8 413.7,224.5 C414.8,224.2 416.0,223.7 417.1,223.4 C418.3,223.0 419.5,222.7 420.6,222.3 C421.8,222.0 422.9,221.8 424.1,221.2 C425.2,220.7 426.4,220.0 427.5,219.2 C428.7,218.4 429.9,217.4 431.0,216.3 C432.2,215.3 433.3,214.0 434.5,212.9 C435.6,211.8 436.8,210.8 437.9,209.7 C439.1,208.5 440.3,207.4 441.4,206.2 C442.6,205.0 443.7,203.6 444.9,202.5 C446.0,201.5 447.2,200.7 448.3,199.9 C449.5,199.0 450.7,198.3 451.8,197.4 C453.0,196.6 454.1,195.5 455.3,194.7 C456.4,193.8 457.6,193.2 458.7,192.4 C459.9,191.5 461.1,190.5 462.2,189.6 C463.4,188.6 464.5,187.6 465.7,186.7 C466.8,185.9 468.0,185.2 469.1,184.4 C470.3,183.7 471.5,183.0 472.6,182.4 C473.8,181.7 474.9,181.0 476.1,180.4 C477.2,179.7 478.4,179.1 479.5,178.5 C480.7,177.9 481.9,177.1 483.0,176.8 C484.2,176.5 485.3,176.6 486.5,176.5 C487.6,176.3 488.8,176.2 489.9,175.9 C491.1,175.7 492.3,175.3 493.4,175.1 C494.6,174.9 495.7,174.7 496.9,174.6 C498.0,174.5 499.2,174.6 500.3,174.5 C501.5,174.4 502.7,174.1 503.8,173.9 C505.0,173.7 506.1,173.6 507.3,173.2 C508.4,172.8 509.6,172.2 510.7,171.7 C511.9,171.2 513.0,170.9 514.2,170.2 C515.4,169.6 516.5,168.7 517.7,167.9 C518.8,167.1 520.0,166.3 521.1,165.5 C522.3,164.7 523.4,163.7 524.6,162.9 C525.8,162.2 526.9,161.5 528.1,160.8 C529.2,160.1 530.4,159.4 531.5,158.8 C532.7,158.1 533.8,157.4 535.0,156.8 C536.2,156.3 537.3,156.0 538.5,155.4 C539.6,154.8 540.8,154.0 541.9,153.4 C543.1,152.7 544.2,152.2 545.4,151.4 C546.6,150.6 547.7,149.4 548.9,148.6 C550.0,147.7 551.2,146.9 552.3,146.1 C553.5,145.2 554.6,144.2 555.8,143.4 C557.0,142.6 558.1,142.1 559.3,141.4 C560.4,140.6 561.6,139.7 562.7,139.0 C563.9,138.2 565.0,137.4 566.2,136.8 C567.4,136.1 568.5,135.5 569.7,135.1 C570.8,134.6 572.0,134.3 573.1,133.9 C574.3,133.4 575.4,133.0 576.6,132.4 C577.8,131.9 578.9,131.2 580.1,130.7 C581.2,130.1 582.4,129.5 583.5,129.0 C584.7,128.5 585.8,128.3 587.0,127.6 C588.2,127.0 589.3,125.9 590.5,125.3 C591.6,124.7 592.8,124.3 593.9,123.9 C595.1,123.5 596.2,123.4 597.4,123.1 C598.6,122.7 599.7,122.1 600.9,121.7 C602.0,121.3 603.2,121.0 604.3,120.8 C605.5,120.6 606.6,120.4 607.8,120.5 C609.0,120.6 610.1,120.9 611.3,121.2 C612.4,121.5 613.6,122.1 614.7,122.5 C615.9,122.9 617.0,123.2 618.2,123.5 C619.3,123.8 620.5,124.1 621.7,124.4 C622.8,124.8 624.0,125.2 625.1,125.5 C626.3,125.9 627.4,126.2 628.6,126.6 C629.7,126.9 630.9,127.4 632.1,127.7 C633.2,128.0 634.4,128.1 635.5,128.4 C636.7,128.6 637.8,128.9 639.0,129.1 C640.1,129.3 641.3,129.3 642.5,129.6 C643.6,129.9 644.8,130.2 645.9,130.7 C647.1,131.2 648.2,131.9 649.4,132.7 C650.5,133.4 652.3,134.6 652.9,135.0" fill="none" stroke="rgba(255,130,0,0.6)" stroke-width="1.1"/>
<path d="M1.2,277.3 C1.8,277.8 3.5,279.2 4.7,280.1 C5.8,281.0 7.0,281.9 8.1,282.6 C9.3,283.4 10.4,283.9 11.6,284.5 C12.7,285.1 13.9,285.5 15.1,286.0 C16.2,286.5 17.4,287.0 18.5,287.4 C19.7,287.8 20.8,288.0 22.0,288.4 C23.1,288.8 24.3,289.5 25.5,290.0 C26.6,290.6 27.8,291.3 28.9,291.8 C30.1,292.4 31.2,292.9 32.4,293.4 C33.5,293.8 34.7,294.0 35.9,294.4 C37.0,294.8 38.2,295.4 39.3,295.9 C40.5,296.4 41.6,296.9 42.8,297.4 C43.9,297.8 45.1,298.1 46.3,298.5 C47.4,298.9 48.6,299.2 49.7,299.6 C50.9,300.0 52.0,300.3 53.2,300.7 C54.3,301.0 55.5,301.3 56.7,301.6 C57.8,301.8 59.0,302.0 60.1,302.1 C61.3,302.3 62.4,302.2 63.6,302.5 C64.7,302.9 65.9,303.5 67.1,304.0 C68.2,304.4 69.4,304.9 70.5,305.2 C71.7,305.6 72.8,306.0 74.0,306.3 C75.1,306.6 76.3,306.9 77.5,307.2 C78.6,307.4 79.8,307.7 80.9,307.9 C82.1,308.2 83.2,308.4 84.4,308.7 C85.5,308.9 86.7,309.1 87.9,309.3 C89.0,309.5 90.2,309.8 91.3,310.0 C92.5,310.2 93.6,310.4 94.8,310.4 C95.9,310.4 97.1,310.2 98.2,310.0 C99.4,309.8 100.6,309.5 101.7,309.2 C102.9,309.0 104.0,308.5 105.2,308.3 C106.3,308.0 107.5,307.8 108.6,307.7 C109.8,307.5 111.0,307.5 112.1,307.3 C113.3,307.1 114.4,306.6 115.6,306.4 C116.7,306.1 117.9,305.9 119.0,305.8 C120.2,305.6 121.4,305.6 122.5,305.5 C123.7,305.4 124.8,305.7 126.0,305.4 C127.1,305.2 128.3,304.3 129.4,303.8 C130.6,303.4 131.8,303.0 132.9,302.6 C134.1,302.2 135.2,301.7 136.4,301.3 C137.5,300.8 138.7,300.5 139.8,300.0 C141.0,299.5 142.2,298.8 143.3,298.5 C144.5,298.1 145.6,298.0 146.8,297.7 C147.9,297.4 149.1,296.9 150.2,296.6 C151.4,296.3 152.6,296.1 153.7,295.9 C154.9,295.7 156.0,295.7 157.2,295.6 C158.3,295.5 159.5,295.5 160.6,295.4 C161.8,295.3 163.0,295.0 164.1,294.9 C165.3,294.7 166.4,294.7 167.6,294.6 C168.7,294.6 169.9,294.7 171.0,294.7 C172.2,294.7 173.4,294.9 174.5,294.7 C175.7,294.5 176.8,294.1 178.0,293.7 C179.1,293.4 180.3,293.1 181.4,292.9 C182.6,292.6 183.8,292.5 184.9,292.3 C186.1,292.1 187.2,291.8 188.4,291.7 C189.5,291.5 190.7,291.3 191.8,291.2 C193.0,291.1 194.1,291.1 195.3,291.0 C196.5,290.9 197.6,290.9 198.8,290.8 C199.9,290.8 201.1,290.5 202.2,290.6 C203.4,290.6 204.5,291.0 205.7,291.2 C206.9,291.3 208.0,291.5 209.2,291.7 C210.3,291.8 211.5,292.0 212.6,292.1 C213.8,292.2 214.9,292.4 216.1,292.4 C217.3,292.5 218.4,292.5 219.6,292.6 C220.7,292.6 221.9,292.8 223.0,292.7 C224.2,292.7 225.3,292.6 226.5,292.5 C227.7,292.4 228.8,292.3 230.0,292.3 C231.1,292.3 232.3,292.4 233.4,292.3 C234.6,292.2 235.7,292.0 236.9,291.7 C238.1,291.3 239.2,290.6 240.4,290.0 C241.5,289.5 242.7,289.0 243.8,288.5 C245.0,287.9 246.1,287.2 247.3,286.6 C248.5,286.0 249.6,285.4 250.8,284.8 C251.9,284.2 253.1,283.8 254.2,283.1 C255.4,282.5 256.5,281.9 257.7,281.1 C258.9,280.3 260.0,279.1 261.2,278.3 C262.3,277.6 263.5,277.1 264.6,276.5 C265.8,275.8 266.9,275.0 268.1,274.4 C269.3,273.7 270.4,273.2 271.6,272.5 C272.7,271.9 273.9,271.1 275.0,270.5 C276.2,269.9 277.3,269.6 278.5,269.1 C279.7,268.7 280.8,268.3 282.0,267.9 C283.1,267.4 284.3,267.0 285.4,266.6 C286.6,266.2 287.7,266.0 288.9,265.4 C290.1,264.7 291.2,263.8 292.4,262.9 C293.5,262.0 294.7,260.8 295.8,259.8 C297.0,258.9 298.1,258.4 299.3,257.2 C300.4,255.9 301.6,254.1 302.8,252.3 C303.9,250.5 305.1,248.2 306.2,246.4 C307.4,244.6 308.5,242.9 309.7,241.4 C310.8,239.8 312.0,238.5 313.2,237.0 C314.3,235.4 315.5,233.5 316.6,232.1 C317.8,230.6 318.9,229.3 320.1,228.2 C321.2,227.1 322.4,226.4 323.6,225.6 C324.7,224.8 325.9,223.9 327.0,223.2 C328.2,222.6 329.3,222.2 330.5,221.7 C331.6,221.1 332.8,220.4 334.0,220.0 C335.1,219.6 336.3,219.6 337.4,219.1 C338.6,218.7 339.7,218.0 340.9,217.3 C342.0,216.6 343.2,215.7 344.4,215.1 C345.5,214.4 346.7,214.0 347.8,213.4 C349.0,212.8 350.1,211.9 351.3,211.4 C352.4,210.9 353.6,210.4 354.8,210.2 C355.9,210.0 357.1,210.1 358.2,210.1 C359.4,210.0 360.5,209.8 361.7,210.1 C362.8,210.4 364.0,211.4 365.2,211.7 C366.3,212.0 367.5,212.1 368.6,211.9 C369.8,211.7 370.9,210.9 372.1,210.5 C373.2,210.0 374.4,209.2 375.6,209.1 C376.7,209.1 377.9,210.0 379.0,210.4 C380.2,210.7 381.3,211.0 382.5,211.3 C383.6,211.6 384.8,212.2 386.0,212.3 C387.1,212.3 388.3,211.6 389.4,211.7 C390.6,211.7 391.7,212.3 392.9,212.7 C394.0,213.1 395.2,213.8 396.4,214.1 C397.5,214.4 398.7,214.5 399.8,214.5 C401.0,214.4 402.1,214.1 403.3,213.8 C404.4,213.6 405.6,213.0 406.7,212.7 C407.9,212.5 409.1,212.5 410.2,212.3 C411.4,212.2 412.5,212.3 413.7,211.9 C414.8,211.5 416.0,210.7 417.1,210.2 C418.3,209.7 419.5,209.2 420.6,208.8 C421.8,208.3 422.9,208.2 424.1,207.3 C425.2,206.4 426.4,205.0 427.5,203.4 C428.7,201.8 429.9,199.8 431.0,197.8 C432.2,195.7 433.3,193.1 434.5,190.9 C435.6,188.8 436.8,187.0 437.9,184.9 C439.1,182.8 440.3,180.7 441.4,178.6 C442.6,176.4 443.7,173.7 444.9,172.0 C446.0,170.3 447.2,169.4 448.3,168.2 C449.5,167.1 450.7,166.2 451.8,165.0 C453.0,163.9 454.1,162.3 455.3,161.2 C456.4,160.1 457.6,159.6 458.7,158.5 C459.9,157.5 461.1,156.0 462.2,154.7 C463.4,153.4 464.5,152.0 465.7,151.0 C466.8,149.9 468.0,149.3 469.1,148.6 C470.3,147.9 471.5,147.4 472.6,146.9 C473.8,146.3 474.9,145.8 476.1,145.3 C477.2,144.9 478.4,144.3 479.5,143.9 C480.7,143.5 481.9,142.9 483.0,143.1 C484.2,143.4 485.3,144.8 486.5,145.5 C487.6,146.1 488.8,146.7 489.9,147.1 C491.1,147.5 492.3,147.4 493.4,147.8 C494.6,148.2 495.7,148.7 496.9,149.3 C498.0,149.9 499.2,151.0 500.3,151.6 C501.5,152.1 502.7,152.1 503.8,152.4 C505.0,152.6 506.1,153.0 507.3,152.8 C508.4,152.6 509.6,151.8 510.7,151.3 C511.9,150.8 513.0,150.6 514.2,149.8 C515.4,149.0 516.5,147.5 517.7,146.3 C518.8,145.1 520.0,143.9 521.1,142.6 C522.3,141.3 523.4,139.8 524.6,138.7 C525.8,137.6 526.9,136.8 528.1,135.9 C529.2,135.0 530.4,134.2 531.5,133.4 C532.7,132.7 533.8,131.8 535.0,131.2 C536.2,130.7 537.3,130.8 538.5,130.2 C539.6,129.6 540.8,128.4 541.9,127.6 C543.1,126.7 544.2,126.2 545.4,125.0 C546.6,123.9 547.7,121.9 548.9,120.5 C550.0,119.2 551.2,118.1 552.3,116.9 C553.5,115.6 554.6,114.0 555.8,113.0 C557.0,112.0 558.1,111.6 559.3,110.7 C560.4,109.8 561.6,108.4 562.7,107.5 C563.9,106.5 565.0,105.6 566.2,105.0 C567.4,104.3 568.5,103.8 569.7,103.6 C570.8,103.3 572.0,103.6 573.1,103.5 C574.3,103.4 575.4,103.2 576.6,102.8 C577.8,102.4 578.9,101.7 580.1,101.2 C581.2,100.8 582.4,100.2 583.5,99.9 C584.7,99.6 585.8,100.0 587.0,99.4 C588.2,98.8 589.3,97.0 590.5,96.4 C591.6,95.8 592.8,95.7 593.9,95.7 C595.1,95.7 596.2,96.4 597.4,96.4 C598.6,96.4 599.7,95.7 600.9,95.7 C602.0,95.6 603.2,95.7 604.3,96.0 C605.5,96.3 606.6,96.6 607.8,97.5 C609.0,98.4 610.1,99.9 611.3,101.3 C612.4,102.8 613.6,104.9 614.7,106.3 C615.9,107.8 617.0,109.0 618.2,110.2 C619.3,111.3 620.5,112.3 621.7,113.5 C622.8,114.6 624.0,115.9 625.1,117.0 C626.3,118.1 627.4,119.1 628.6,120.1 C629.7,121.1 630.9,122.2 632.1,123.0 C633.2,123.9 634.4,124.3 635.5,124.9 C636.7,125.5 637.8,126.2 639.0,126.7 C640.1,127.1 641.3,127.1 642.5,127.7 C643.6,128.3 644.8,129.0 645.9,130.1 C647.1,131.2 648.2,132.9 649.4,134.5 C650.5,136.1 652.3,138.7 652.9,139.6" fill="none" stroke="rgba(255,40,0,0.6)" stroke-width="1.1"/>
<line x1="1.19" y1="305.2" x2="1.19" y2="311.7" stroke="#F23645" stroke-width="0.9"/>
<rect x="-0.21" y="306.1" width="2.8" height="4.8" fill="#F23645"/>
<line x1="4.66" y1="303.0" x2="4.66" y2="311.3" stroke="#089981" stroke-width="0.9"/>
<rect x="3.26" y="307.0" width="2.8" height="3.9" fill="#089981"/>
<line x1="8.13" y1="305.2" x2="8.13" y2="311.3" stroke="#F23645" stroke-width="0.9"/>
<rect x="6.73" y="307.0" width="2.8" height="0.9" fill="#F23645"/>
<line x1="11.59" y1="299.1" x2="11.59" y2="307.4" stroke="#089981" stroke-width="0.9"/>
<rect x="10.19" y="303.0" width="2.8" height="4.0" fill="#089981"/>
<line x1="15.06" y1="298.3" x2="15.06" y2="307.4" stroke="#089981" stroke-width="0.9"/>
<rect x="13.66" y="300.9" width="2.8" height="2.1" fill="#089981"/>
<line x1="18.52" y1="300.0" x2="18.52" y2="303.5" stroke="#F23645" stroke-width="0.9"/>
<rect x="17.12" y="300.9" width="2.8" height="0.9" fill="#F23645"/>
<line x1="21.99" y1="297.4" x2="21.99" y2="302.6" stroke="#089981" stroke-width="0.9"/>
<rect x="20.59" y="298.7" width="2.8" height="3.5" fill="#089981"/>
<line x1="25.46" y1="297.4" x2="25.46" y2="307.0" stroke="#F23645" stroke-width="0.9"/>
<rect x="24.06" y="298.7" width="2.8" height="7.4" fill="#F23645"/>
<line x1="28.92" y1="304.8" x2="28.92" y2="310.0" stroke="#F23645" stroke-width="0.9"/>
<rect x="27.52" y="305.7" width="2.8" height="3.9" fill="#F23645"/>
<line x1="32.39" y1="307.8" x2="32.39" y2="310.4" stroke="#089981" stroke-width="0.9"/>
<rect x="30.99" y="308.7" width="2.8" height="1.3" fill="#089981"/>
<line x1="35.86" y1="303.5" x2="35.86" y2="312.6" stroke="#089981" stroke-width="0.9"/>
<rect x="34.46" y="304.8" width="2.8" height="4.8" fill="#089981"/>
<line x1="39.32" y1="302.2" x2="39.32" y2="310.9" stroke="#F23645" stroke-width="0.9"/>
<rect x="37.92" y="304.8" width="2.8" height="5.6" fill="#F23645"/>
<line x1="42.79" y1="309.6" x2="42.79" y2="312.0" stroke="#F23645" stroke-width="0.9"/>
<rect x="41.39" y="310.0" width="2.8" height="1.7" fill="#F23645"/>
<line x1="46.25" y1="308.3" x2="46.25" y2="312.0" stroke="#089981" stroke-width="0.9"/>
<rect x="44.85" y="309.6" width="2.8" height="2.1" fill="#089981"/>
<line x1="49.72" y1="308.3" x2="49.72" y2="311.7" stroke="#089981" stroke-width="0.9"/>
<rect x="48.32" y="310.0" width="2.8" height="1.3" fill="#089981"/>
<line x1="53.19" y1="309.1" x2="53.19" y2="312.6" stroke="#F23645" stroke-width="0.9"/>
<rect x="51.79" y="310.0" width="2.8" height="0.9" fill="#F23645"/>
<line x1="56.65" y1="309.6" x2="56.65" y2="311.7" stroke="#089981" stroke-width="0.9"/>
<rect x="55.25" y="310.0" width="2.8" height="1.3" fill="#089981"/>
<line x1="60.12" y1="306.1" x2="60.12" y2="310.4" stroke="#089981" stroke-width="0.9"/>
<rect x="58.72" y="307.4" width="2.8" height="2.6" fill="#089981"/>
<line x1="63.59" y1="305.7" x2="63.59" y2="308.7" stroke="#089981" stroke-width="0.9"/>
<rect x="62.19" y="306.5" width="2.8" height="1.8" fill="#089981"/>
<line x1="67.05" y1="306.1" x2="67.05" y2="318.3" stroke="#F23645" stroke-width="0.9"/>
<rect x="65.65" y="307.0" width="2.8" height="10.4" fill="#F23645"/>
<line x1="70.52" y1="316.5" x2="70.52" y2="318.5" stroke="#F23645" stroke-width="0.9"/>
<rect x="69.12" y="317.0" width="2.8" height="0.9" fill="#F23645"/>
<line x1="73.98" y1="316.0" x2="73.98" y2="318.0" stroke="#089981" stroke-width="0.9"/>
<rect x="72.58" y="316.5" width="2.8" height="0.9" fill="#089981"/>
<line x1="77.45" y1="315.0" x2="77.45" y2="318.2" stroke="#089981" stroke-width="0.9"/>
<rect x="76.05" y="315.6" width="2.8" height="2.2" fill="#089981"/>
<line x1="80.92" y1="314.5" x2="80.92" y2="316.0" stroke="#F23645" stroke-width="0.9"/>
<rect x="79.52" y="315.0" width="2.8" height="0.9" fill="#F23645"/>
<line x1="84.38" y1="313.0" x2="84.38" y2="316.7" stroke="#F23645" stroke-width="0.9"/>
<rect x="82.98" y="314.6" width="2.8" height="1.6" fill="#F23645"/>
<line x1="87.85" y1="315.5" x2="87.85" y2="317.5" stroke="#089981" stroke-width="0.9"/>
<rect x="86.45" y="316.2" width="2.8" height="0.9" fill="#089981"/>
<line x1="91.32" y1="316.0" x2="91.32" y2="317.5" stroke="#F23645" stroke-width="0.9"/>
<rect x="89.92" y="316.4" width="2.8" height="0.9" fill="#F23645"/>
<line x1="94.78" y1="315.0" x2="94.78" y2="317.2" stroke="#089981" stroke-width="0.9"/>
<rect x="93.38" y="315.6" width="2.8" height="1.1" fill="#089981"/>
<line x1="98.25" y1="306.5" x2="98.25" y2="316.0" stroke="#089981" stroke-width="0.9"/>
<rect x="96.85" y="307.0" width="2.8" height="8.6" fill="#089981"/>
<line x1="101.72" y1="302.0" x2="101.72" y2="308.0" stroke="#089981" stroke-width="0.9"/>
<rect x="100.32" y="302.6" width="2.8" height="4.9" fill="#089981"/>
<line x1="105.18" y1="299.5" x2="105.18" y2="303.5" stroke="#089981" stroke-width="0.9"/>
<rect x="103.78" y="300.0" width="2.8" height="3.2" fill="#089981"/>
<line x1="108.65" y1="299.5" x2="108.65" y2="303.0" stroke="#F23645" stroke-width="0.9"/>
<rect x="107.25" y="300.0" width="2.8" height="2.6" fill="#F23645"/>
<line x1="112.11" y1="301.5" x2="112.11" y2="305.5" stroke="#F23645" stroke-width="0.9"/>
<rect x="110.71" y="302.0" width="2.8" height="2.8" fill="#F23645"/>
<line x1="115.58" y1="298.3" x2="115.58" y2="305.5" stroke="#089981" stroke-width="0.9"/>
<rect x="114.18" y="298.8" width="2.8" height="6.0" fill="#089981"/>
<line x1="119.05" y1="298.3" x2="119.05" y2="301.5" stroke="#F23645" stroke-width="0.9"/>
<rect x="117.65" y="298.8" width="2.8" height="2.2" fill="#F23645"/>
<line x1="122.51" y1="300.5" x2="122.51" y2="304.2" stroke="#F23645" stroke-width="0.9"/>
<rect x="121.11" y="301.0" width="2.8" height="2.7" fill="#F23645"/>
<line x1="125.98" y1="302.8" x2="125.98" y2="309.7" stroke="#F23645" stroke-width="0.9"/>
<rect x="124.58" y="303.2" width="2.8" height="2.7" fill="#F23645"/>
<line x1="129.45" y1="289.0" x2="129.45" y2="306.0" stroke="#089981" stroke-width="0.9"/>
<rect x="128.05" y="289.6" width="2.8" height="15.2" fill="#089981"/>
<line x1="132.91" y1="288.3" x2="132.91" y2="293.5" stroke="#F23645" stroke-width="0.9"/>
<rect x="131.51" y="289.7" width="2.8" height="2.4" fill="#F23645"/>
<line x1="136.38" y1="288.0" x2="136.38" y2="293.5" stroke="#089981" stroke-width="0.9"/>
<rect x="134.98" y="289.7" width="2.8" height="1.7" fill="#089981"/>
<line x1="139.84" y1="288.0" x2="139.84" y2="292.4" stroke="#089981" stroke-width="0.9"/>
<rect x="138.44" y="289.0" width="2.8" height="2.0" fill="#089981"/>
<line x1="143.31" y1="283.2" x2="143.31" y2="290.0" stroke="#089981" stroke-width="0.9"/>
<rect x="141.91" y="284.9" width="2.8" height="4.8" fill="#089981"/>
<line x1="146.78" y1="284.2" x2="146.78" y2="292.4" stroke="#F23645" stroke-width="0.9"/>
<rect x="145.38" y="284.9" width="2.8" height="6.8" fill="#F23645"/>
<line x1="150.24" y1="285.6" x2="150.24" y2="292.4" stroke="#089981" stroke-width="0.9"/>
<rect x="148.84" y="287.0" width="2.8" height="5.1" fill="#089981"/>
<line x1="153.71" y1="286.0" x2="153.71" y2="291.0" stroke="#F23645" stroke-width="0.9"/>
<rect x="152.31" y="287.0" width="2.8" height="3.0" fill="#F23645"/>
<line x1="157.18" y1="288.7" x2="157.18" y2="294.8" stroke="#F23645" stroke-width="0.9"/>
<rect x="155.78" y="289.4" width="2.8" height="4.4" fill="#F23645"/>
<line x1="160.64" y1="291.4" x2="160.64" y2="294.1" stroke="#F23645" stroke-width="0.9"/>
<rect x="159.24" y="293.1" width="2.8" height="0.9" fill="#F23645"/>
<line x1="164.11" y1="289.7" x2="164.11" y2="295.2" stroke="#089981" stroke-width="0.9"/>
<rect x="162.71" y="290.0" width="2.8" height="3.5" fill="#089981"/>
<line x1="167.57" y1="289.4" x2="167.57" y2="293.5" stroke="#F23645" stroke-width="0.9"/>
<rect x="166.17" y="290.4" width="2.8" height="2.4" fill="#F23645"/>
<line x1="171.04" y1="291.7" x2="171.04" y2="296.5" stroke="#F23645" stroke-width="0.9"/>
<rect x="169.64" y="292.4" width="2.8" height="3.1" fill="#F23645"/>
<line x1="174.51" y1="293.1" x2="174.51" y2="297.6" stroke="#089981" stroke-width="0.9"/>
<rect x="173.11" y="294.1" width="2.8" height="1.4" fill="#089981"/>
<line x1="177.97" y1="282.9" x2="177.97" y2="294.8" stroke="#089981" stroke-width="0.9"/>
<rect x="176.57" y="284.2" width="2.8" height="10.3" fill="#089981"/>
<line x1="181.44" y1="282.5" x2="181.44" y2="286.6" stroke="#089981" stroke-width="0.9"/>
<rect x="180.04" y="283.9" width="2.8" height="1.0" fill="#089981"/>
<line x1="184.91" y1="281.8" x2="184.91" y2="286.3" stroke="#F23645" stroke-width="0.9"/>
<rect x="183.51" y="284.2" width="2.8" height="1.7" fill="#F23645"/>
<line x1="188.37" y1="281.2" x2="188.37" y2="285.9" stroke="#089981" stroke-width="0.9"/>
<rect x="186.97" y="284.9" width="2.8" height="0.9" fill="#089981"/>
<line x1="191.84" y1="284.9" x2="191.84" y2="286.3" stroke="#F23645" stroke-width="0.9"/>
<rect x="190.44" y="285.2" width="2.8" height="0.9" fill="#F23645"/>
<line x1="195.31" y1="285.2" x2="195.31" y2="288.3" stroke="#F23645" stroke-width="0.9"/>
<rect x="193.91" y="285.6" width="2.8" height="2.3" fill="#F23645"/>
<line x1="198.77" y1="285.6" x2="198.77" y2="288.6" stroke="#F23645" stroke-width="0.9"/>
<rect x="197.37" y="286.7" width="2.8" height="1.6" fill="#F23645"/>
<line x1="202.24" y1="285.2" x2="202.24" y2="289.0" stroke="#089981" stroke-width="0.9"/>
<rect x="200.84" y="287.1" width="2.8" height="0.9" fill="#089981"/>
<line x1="205.70" y1="286.7" x2="205.70" y2="297.0" stroke="#F23645" stroke-width="0.9"/>
<rect x="204.30" y="287.5" width="2.8" height="8.4" fill="#F23645"/>
<line x1="209.17" y1="292.8" x2="209.17" y2="296.6" stroke="#F23645" stroke-width="0.9"/>
<rect x="207.77" y="294.0" width="2.8" height="1.9" fill="#F23645"/>
<line x1="212.64" y1="290.2" x2="212.64" y2="296.6" stroke="#F23645" stroke-width="0.9"/>
<rect x="211.24" y="294.4" width="2.8" height="1.1" fill="#F23645"/>
<line x1="216.10" y1="294.4" x2="216.10" y2="296.0" stroke="#F23645" stroke-width="0.9"/>
<rect x="214.70" y="294.7" width="2.8" height="0.9" fill="#F23645"/>
<line x1="219.57" y1="292.8" x2="219.57" y2="297.4" stroke="#089981" stroke-width="0.9"/>
<rect x="218.17" y="293.6" width="2.8" height="1.9" fill="#089981"/>
<line x1="223.04" y1="291.7" x2="223.04" y2="294.7" stroke="#F23645" stroke-width="0.9"/>
<rect x="221.64" y="292.8" width="2.8" height="1.6" fill="#F23645"/>
<line x1="226.50" y1="290.0" x2="226.50" y2="294.7" stroke="#089981" stroke-width="0.9"/>
<rect x="225.10" y="290.2" width="2.8" height="4.2" fill="#089981"/>
<line x1="229.97" y1="289.4" x2="229.97" y2="291.3" stroke="#F23645" stroke-width="0.9"/>
<rect x="228.57" y="289.8" width="2.8" height="1.1" fill="#F23645"/>
<line x1="233.43" y1="290.2" x2="233.43" y2="293.2" stroke="#F23645" stroke-width="0.9"/>
<rect x="232.03" y="290.9" width="2.8" height="1.9" fill="#F23645"/>
<line x1="236.90" y1="285.2" x2="236.90" y2="293.0" stroke="#089981" stroke-width="0.9"/>
<rect x="235.50" y="285.6" width="2.8" height="6.8" fill="#089981"/>
<line x1="240.37" y1="273.4" x2="240.37" y2="286.0" stroke="#089981" stroke-width="0.9"/>
<rect x="238.97" y="275.0" width="2.8" height="10.6" fill="#089981"/>
<line x1="243.83" y1="271.7" x2="243.83" y2="275.7" stroke="#089981" stroke-width="0.9"/>
<rect x="242.43" y="274.0" width="2.8" height="1.4" fill="#089981"/>
<line x1="247.30" y1="267.3" x2="247.30" y2="275.1" stroke="#089981" stroke-width="0.9"/>
<rect x="245.90" y="269.5" width="2.8" height="4.9" fill="#089981"/>
<line x1="250.77" y1="267.0" x2="250.77" y2="274.4" stroke="#089981" stroke-width="0.9"/>
<rect x="249.37" y="268.7" width="2.8" height="1.2" fill="#089981"/>
<line x1="254.23" y1="265.9" x2="254.23" y2="273.0" stroke="#089981" stroke-width="0.9"/>
<rect x="252.83" y="268.0" width="2.8" height="1.5" fill="#089981"/>
<line x1="257.70" y1="261.0" x2="257.70" y2="269.5" stroke="#089981" stroke-width="0.9"/>
<rect x="256.30" y="262.4" width="2.8" height="6.3" fill="#089981"/>
<line x1="261.17" y1="251.1" x2="261.17" y2="263.1" stroke="#089981" stroke-width="0.9"/>
<rect x="259.77" y="253.9" width="2.8" height="8.5" fill="#089981"/>
<line x1="264.63" y1="253.2" x2="264.63" y2="261.7" stroke="#F23645" stroke-width="0.9"/>
<rect x="263.23" y="253.9" width="2.8" height="6.4" fill="#F23645"/>
<line x1="268.10" y1="252.5" x2="268.10" y2="261.0" stroke="#089981" stroke-width="0.9"/>
<rect x="266.70" y="256.0" width="2.8" height="4.3" fill="#089981"/>
<line x1="271.56" y1="254.6" x2="271.56" y2="258.8" stroke="#F23645" stroke-width="0.9"/>
<rect x="270.16" y="256.0" width="2.8" height="1.4" fill="#F23645"/>
<line x1="275.03" y1="248.9" x2="275.03" y2="261.0" stroke="#089981" stroke-width="0.9"/>
<rect x="273.63" y="253.2" width="2.8" height="4.2" fill="#089981"/>
<line x1="278.50" y1="241.9" x2="278.50" y2="259.6" stroke="#F23645" stroke-width="0.9"/>
<rect x="277.10" y="253.2" width="2.8" height="5.6" fill="#F23645"/>
<line x1="281.96" y1="254.6" x2="281.96" y2="261.7" stroke="#F23645" stroke-width="0.9"/>
<rect x="280.56" y="256.7" width="2.8" height="2.1" fill="#F23645"/>
<line x1="285.43" y1="256.7" x2="285.43" y2="265.9" stroke="#089981" stroke-width="0.9"/>
<rect x="284.03" y="258.0" width="2.8" height="1.6" fill="#089981"/>
<line x1="288.90" y1="253.2" x2="288.90" y2="258.1" stroke="#089981" stroke-width="0.9"/>
<rect x="287.50" y="256.7" width="2.8" height="0.9" fill="#089981"/>
<line x1="292.36" y1="242.6" x2="292.36" y2="257.4" stroke="#089981" stroke-width="0.9"/>
<rect x="290.96" y="243.3" width="2.8" height="13.4" fill="#089981"/>
<line x1="295.83" y1="232.7" x2="295.83" y2="244.0" stroke="#089981" stroke-width="0.9"/>
<rect x="294.43" y="234.1" width="2.8" height="9.2" fill="#089981"/>
<line x1="299.29" y1="232.9" x2="299.29" y2="237.5" stroke="#F23645" stroke-width="0.9"/>
<rect x="297.89" y="234.1" width="2.8" height="1.8" fill="#F23645"/>
<line x1="302.76" y1="207.0" x2="302.76" y2="236.6" stroke="#089981" stroke-width="0.9"/>
<rect x="301.36" y="209.6" width="2.8" height="26.1" fill="#089981"/>
<line x1="306.23" y1="193.0" x2="306.23" y2="217.5" stroke="#089981" stroke-width="0.9"/>
<rect x="304.83" y="194.8" width="2.8" height="14.8" fill="#089981"/>
<line x1="309.69" y1="184.4" x2="309.69" y2="205.3" stroke="#F23645" stroke-width="0.9"/>
<rect x="308.29" y="195.7" width="2.8" height="1.7" fill="#F23645"/>
<line x1="313.16" y1="193.0" x2="313.16" y2="214.0" stroke="#F23645" stroke-width="0.9"/>
<rect x="311.76" y="196.6" width="2.8" height="2.6" fill="#F23645"/>
<line x1="316.63" y1="188.7" x2="316.63" y2="201.0" stroke="#089981" stroke-width="0.9"/>
<rect x="315.23" y="189.6" width="2.8" height="10.4" fill="#089981"/>
<line x1="320.09" y1="189.6" x2="320.09" y2="205.3" stroke="#F23645" stroke-width="0.9"/>
<rect x="318.69" y="190.5" width="2.8" height="4.3" fill="#F23645"/>
<line x1="323.56" y1="186.1" x2="323.56" y2="214.8" stroke="#F23645" stroke-width="0.9"/>
<rect x="322.16" y="194.8" width="2.8" height="9.6" fill="#F23645"/>
<line x1="327.02" y1="200.0" x2="327.02" y2="216.6" stroke="#F23645" stroke-width="0.9"/>
<rect x="325.62" y="202.7" width="2.8" height="1.7" fill="#F23645"/>
<line x1="330.49" y1="199.2" x2="330.49" y2="210.5" stroke="#F23645" stroke-width="0.9"/>
<rect x="329.09" y="204.4" width="2.8" height="5.2" fill="#F23645"/>
<line x1="333.96" y1="206.1" x2="333.96" y2="223.6" stroke="#089981" stroke-width="0.9"/>
<rect x="332.56" y="207.0" width="2.8" height="2.6" fill="#089981"/>
<line x1="337.42" y1="202.7" x2="337.42" y2="215.7" stroke="#F23645" stroke-width="0.9"/>
<rect x="336.02" y="206.1" width="2.8" height="7.0" fill="#F23645"/>
<line x1="340.89" y1="198.3" x2="340.89" y2="214.0" stroke="#089981" stroke-width="0.9"/>
<rect x="339.49" y="201.8" width="2.8" height="11.3" fill="#089981"/>
<line x1="344.36" y1="187.9" x2="344.36" y2="202.7" stroke="#089981" stroke-width="0.9"/>
<rect x="342.96" y="195.7" width="2.8" height="6.1" fill="#089981"/>
<line x1="347.82" y1="194.0" x2="347.82" y2="200.9" stroke="#F23645" stroke-width="0.9"/>
<rect x="346.42" y="196.6" width="2.8" height="2.6" fill="#F23645"/>
<line x1="351.29" y1="187.9" x2="351.29" y2="199.2" stroke="#089981" stroke-width="0.9"/>
<rect x="349.89" y="193.0" width="2.8" height="5.3" fill="#089981"/>
<line x1="354.76" y1="192.2" x2="354.76" y2="204.4" stroke="#F23645" stroke-width="0.9"/>
<rect x="353.36" y="193.7" width="2.8" height="6.1" fill="#F23645"/>
<line x1="358.22" y1="198.5" x2="358.22" y2="210.0" stroke="#F23645" stroke-width="0.9"/>
<rect x="356.82" y="199.8" width="2.8" height="9.2" fill="#F23645"/>
<line x1="361.69" y1="207.9" x2="361.69" y2="219.4" stroke="#F23645" stroke-width="0.9"/>
<rect x="360.29" y="209.0" width="2.8" height="1.4" fill="#F23645"/>
<line x1="365.15" y1="208.3" x2="365.15" y2="231.0" stroke="#F23645" stroke-width="0.9"/>
<rect x="363.75" y="209.7" width="2.8" height="16.9" fill="#F23645"/>
<line x1="368.62" y1="212.6" x2="368.62" y2="229.2" stroke="#089981" stroke-width="0.9"/>
<rect x="367.22" y="213.5" width="2.8" height="13.1" fill="#089981"/>
<line x1="372.09" y1="196.1" x2="372.09" y2="215.3" stroke="#089981" stroke-width="0.9"/>
<rect x="370.69" y="197.0" width="2.8" height="17.4" fill="#089981"/>
<line x1="375.55" y1="194.4" x2="375.55" y2="207.4" stroke="#089981" stroke-width="0.9"/>
<rect x="374.15" y="196.1" width="2.8" height="1.8" fill="#089981"/>
<line x1="379.02" y1="192.6" x2="379.02" y2="222.2" stroke="#F23645" stroke-width="0.9"/>
<rect x="377.62" y="197.0" width="2.8" height="24.4" fill="#F23645"/>
<line x1="382.49" y1="210.0" x2="382.49" y2="241.4" stroke="#089981" stroke-width="0.9"/>
<rect x="381.09" y="219.6" width="2.8" height="0.9" fill="#089981"/>
<line x1="385.95" y1="211.8" x2="385.95" y2="224.0" stroke="#F23645" stroke-width="0.9"/>
<rect x="384.55" y="219.6" width="2.8" height="1.8" fill="#F23645"/>
<line x1="389.42" y1="204.8" x2="389.42" y2="222.2" stroke="#089981" stroke-width="0.9"/>
<rect x="388.02" y="205.7" width="2.8" height="14.8" fill="#089981"/>
<line x1="392.88" y1="204.8" x2="392.88" y2="223.1" stroke="#F23645" stroke-width="0.9"/>
<rect x="391.48" y="205.7" width="2.8" height="16.5" fill="#F23645"/>
<line x1="396.35" y1="221.4" x2="396.35" y2="232.7" stroke="#F23645" stroke-width="0.9"/>
<rect x="394.95" y="222.2" width="2.8" height="6.1" fill="#F23645"/>
<line x1="399.82" y1="216.1" x2="399.82" y2="229.2" stroke="#089981" stroke-width="0.9"/>
<rect x="398.42" y="217.9" width="2.8" height="10.4" fill="#089981"/>
<line x1="403.28" y1="207.4" x2="403.28" y2="222.2" stroke="#089981" stroke-width="0.9"/>
<rect x="401.88" y="208.3" width="2.8" height="10.5" fill="#089981"/>
<line x1="406.75" y1="201.4" x2="406.75" y2="209.2" stroke="#089981" stroke-width="0.9"/>
<rect x="405.35" y="203.1" width="2.8" height="5.2" fill="#089981"/>
<line x1="410.22" y1="202.2" x2="410.22" y2="216.1" stroke="#F23645" stroke-width="0.9"/>
<rect x="408.82" y="203.1" width="2.8" height="6.1" fill="#F23645"/>
<line x1="413.68" y1="209.2" x2="413.68" y2="217.9" stroke="#089981" stroke-width="0.9"/>
<rect x="412.28" y="209.2" width="2.8" height="1.7" fill="#089981"/>
<line x1="417.15" y1="194.4" x2="417.15" y2="210.9" stroke="#089981" stroke-width="0.9"/>
<rect x="415.75" y="195.3" width="2.8" height="14.7" fill="#089981"/>
<line x1="420.61" y1="194.4" x2="420.61" y2="203.0" stroke="#F23645" stroke-width="0.9"/>
<rect x="419.21" y="195.3" width="2.8" height="1.7" fill="#F23645"/>
<line x1="424.08" y1="183.8" x2="424.08" y2="199.4" stroke="#089981" stroke-width="0.9"/>
<rect x="422.68" y="195.1" width="2.8" height="2.6" fill="#089981"/>
<line x1="427.55" y1="166.5" x2="427.55" y2="199.4" stroke="#089981" stroke-width="0.9"/>
<rect x="426.15" y="169.0" width="2.8" height="27.0" fill="#089981"/>
<line x1="431.01" y1="138.7" x2="431.01" y2="170.0" stroke="#089981" stroke-width="0.9"/>
<rect x="429.61" y="146.5" width="2.8" height="22.5" fill="#089981"/>
<line x1="434.48" y1="124.0" x2="434.48" y2="147.5" stroke="#089981" stroke-width="0.9"/>
<rect x="433.08" y="128.4" width="2.8" height="18.2" fill="#089981"/>
<line x1="437.95" y1="126.7" x2="437.95" y2="144.0" stroke="#F23645" stroke-width="0.9"/>
<rect x="436.55" y="128.4" width="2.8" height="2.1" fill="#F23645"/>
<line x1="441.41" y1="114.5" x2="441.41" y2="144.9" stroke="#089981" stroke-width="0.9"/>
<rect x="440.01" y="121.1" width="2.8" height="9.4" fill="#089981"/>
<line x1="444.88" y1="111.0" x2="444.88" y2="136.2" stroke="#089981" stroke-width="0.9"/>
<rect x="443.48" y="112.8" width="2.8" height="8.3" fill="#089981"/>
<line x1="448.35" y1="103.2" x2="448.35" y2="140.6" stroke="#F23645" stroke-width="0.9"/>
<rect x="446.95" y="112.8" width="2.8" height="22.2" fill="#F23645"/>
<line x1="451.81" y1="123.2" x2="451.81" y2="142.3" stroke="#F23645" stroke-width="0.9"/>
<rect x="450.41" y="135.0" width="2.8" height="2.6" fill="#F23645"/>
<line x1="455.28" y1="125.8" x2="455.28" y2="142.3" stroke="#089981" stroke-width="0.9"/>
<rect x="453.88" y="127.2" width="2.8" height="10.4" fill="#089981"/>
<line x1="458.74" y1="117.1" x2="458.74" y2="143.2" stroke="#F23645" stroke-width="0.9"/>
<rect x="457.34" y="127.2" width="2.8" height="8.7" fill="#F23645"/>
<line x1="462.21" y1="108.4" x2="462.21" y2="147.5" stroke="#089981" stroke-width="0.9"/>
<rect x="460.81" y="120.6" width="2.8" height="15.3" fill="#089981"/>
<line x1="465.68" y1="101.5" x2="465.68" y2="124.0" stroke="#089981" stroke-width="0.9"/>
<rect x="464.28" y="117.5" width="2.8" height="3.1" fill="#089981"/>
<line x1="469.14" y1="108.4" x2="469.14" y2="131.0" stroke="#F23645" stroke-width="0.9"/>
<rect x="467.74" y="117.5" width="2.8" height="10.9" fill="#F23645"/>
<line x1="472.61" y1="116.9" x2="472.61" y2="143.4" stroke="#F23645" stroke-width="0.9"/>
<rect x="471.21" y="128.2" width="2.8" height="3.5" fill="#F23645"/>
<line x1="476.08" y1="125.6" x2="476.08" y2="136.9" stroke="#F23645" stroke-width="0.9"/>
<rect x="474.68" y="131.1" width="2.8" height="1.3" fill="#F23645"/>
<line x1="479.54" y1="124.5" x2="479.54" y2="143.6" stroke="#089981" stroke-width="0.9"/>
<rect x="478.14" y="131.5" width="2.8" height="0.9" fill="#089981"/>
<line x1="483.01" y1="130.8" x2="483.01" y2="173.3" stroke="#F23645" stroke-width="0.9"/>
<rect x="481.61" y="131.6" width="2.8" height="5.2" fill="#F23645"/>
<line x1="486.47" y1="135.8" x2="486.47" y2="169.7" stroke="#F23645" stroke-width="0.9"/>
<rect x="485.07" y="136.5" width="2.8" height="32.0" fill="#F23645"/>
<line x1="489.94" y1="157.2" x2="489.94" y2="176.7" stroke="#089981" stroke-width="0.9"/>
<rect x="488.54" y="163.6" width="2.8" height="4.6" fill="#089981"/>
<line x1="493.41" y1="153.0" x2="493.41" y2="165.0" stroke="#089981" stroke-width="0.9"/>
<rect x="492.01" y="155.3" width="2.8" height="8.3" fill="#089981"/>
<line x1="496.87" y1="149.7" x2="496.87" y2="165.3" stroke="#F23645" stroke-width="0.9"/>
<rect x="495.47" y="155.3" width="2.8" height="9.1" fill="#F23645"/>
<line x1="500.34" y1="155.8" x2="500.34" y2="174.9" stroke="#F23645" stroke-width="0.9"/>
<rect x="498.94" y="164.0" width="2.8" height="9.7" fill="#F23645"/>
<line x1="503.81" y1="155.8" x2="503.81" y2="181.8" stroke="#089981" stroke-width="0.9"/>
<rect x="502.41" y="160.8" width="2.8" height="12.9" fill="#089981"/>
<line x1="507.27" y1="155.0" x2="507.27" y2="162.0" stroke="#089981" stroke-width="0.9"/>
<rect x="505.87" y="158.0" width="2.8" height="3.5" fill="#089981"/>
<line x1="510.74" y1="133.2" x2="510.74" y2="158.4" stroke="#089981" stroke-width="0.9"/>
<rect x="509.34" y="137.6" width="2.8" height="20.4" fill="#089981"/>
<line x1="514.20" y1="128.0" x2="514.20" y2="139.3" stroke="#089981" stroke-width="0.9"/>
<rect x="512.80" y="136.4" width="2.8" height="1.7" fill="#089981"/>
<line x1="517.67" y1="112.1" x2="517.67" y2="138.1" stroke="#089981" stroke-width="0.9"/>
<rect x="516.27" y="113.8" width="2.8" height="22.6" fill="#089981"/>
<line x1="521.14" y1="106.9" x2="521.14" y2="120.8" stroke="#089981" stroke-width="0.9"/>
<rect x="519.74" y="108.3" width="2.8" height="5.5" fill="#089981"/>
<line x1="524.60" y1="95.6" x2="524.60" y2="118.2" stroke="#089981" stroke-width="0.9"/>
<rect x="523.20" y="102.5" width="2.8" height="6.1" fill="#089981"/>
<line x1="528.07" y1="98.2" x2="528.07" y2="115.6" stroke="#F23645" stroke-width="0.9"/>
<rect x="526.67" y="102.5" width="2.8" height="7.8" fill="#F23645"/>
<line x1="531.54" y1="106.9" x2="531.54" y2="122.5" stroke="#F23645" stroke-width="0.9"/>
<rect x="530.14" y="110.0" width="2.8" height="0.9" fill="#F23645"/>
<line x1="535.00" y1="99.1" x2="535.00" y2="112.1" stroke="#F23645" stroke-width="0.9"/>
<rect x="533.60" y="110.0" width="2.8" height="0.9" fill="#F23645"/>
<line x1="538.47" y1="101.7" x2="538.47" y2="126.8" stroke="#F23645" stroke-width="0.9"/>
<rect x="537.07" y="110.3" width="2.8" height="10.8" fill="#F23645"/>
<line x1="541.94" y1="103.4" x2="541.94" y2="122.5" stroke="#089981" stroke-width="0.9"/>
<rect x="540.54" y="103.8" width="2.8" height="17.3" fill="#089981"/>
<line x1="545.40" y1="99.1" x2="545.40" y2="111.2" stroke="#089981" stroke-width="0.9"/>
<rect x="544.00" y="101.7" width="2.8" height="1.7" fill="#089981"/>
<line x1="548.87" y1="77.4" x2="548.87" y2="106.0" stroke="#089981" stroke-width="0.9"/>
<rect x="547.47" y="78.8" width="2.8" height="23.0" fill="#089981"/>
<line x1="552.33" y1="69.5" x2="552.33" y2="86.0" stroke="#F23645" stroke-width="0.9"/>
<rect x="550.93" y="78.8" width="2.8" height="4.7" fill="#F23645"/>
<line x1="555.80" y1="76.5" x2="555.80" y2="84.3" stroke="#089981" stroke-width="0.9"/>
<rect x="554.40" y="77.4" width="2.8" height="6.0" fill="#089981"/>
<line x1="559.27" y1="76.5" x2="559.27" y2="94.7" stroke="#F23645" stroke-width="0.9"/>
<rect x="557.87" y="77.4" width="2.8" height="13.0" fill="#F23645"/>
<line x1="562.73" y1="76.5" x2="562.73" y2="93.0" stroke="#089981" stroke-width="0.9"/>
<rect x="561.33" y="78.2" width="2.8" height="12.2" fill="#089981"/>
<line x1="566.20" y1="67.0" x2="566.20" y2="84.3" stroke="#F23645" stroke-width="0.9"/>
<rect x="564.80" y="78.2" width="2.8" height="4.4" fill="#F23645"/>
<line x1="569.67" y1="81.7" x2="569.67" y2="97.3" stroke="#F23645" stroke-width="0.9"/>
<rect x="568.27" y="82.6" width="2.8" height="9.5" fill="#F23645"/>
<line x1="573.13" y1="91.2" x2="573.13" y2="106.0" stroke="#F23645" stroke-width="0.9"/>
<rect x="571.73" y="92.1" width="2.8" height="12.2" fill="#F23645"/>
<line x1="576.60" y1="92.1" x2="576.60" y2="106.0" stroke="#089981" stroke-width="0.9"/>
<rect x="575.20" y="97.3" width="2.8" height="7.0" fill="#089981"/>
<line x1="580.06" y1="84.3" x2="580.06" y2="98.2" stroke="#089981" stroke-width="0.9"/>
<rect x="578.66" y="87.8" width="2.8" height="9.5" fill="#089981"/>
<line x1="583.53" y1="81.7" x2="583.53" y2="91.2" stroke="#F23645" stroke-width="0.9"/>
<rect x="582.13" y="87.8" width="2.8" height="0.9" fill="#F23645"/>
<line x1="587.00" y1="86.9" x2="587.00" y2="97.3" stroke="#F23645" stroke-width="0.9"/>
<rect x="585.60" y="87.8" width="2.8" height="6.9" fill="#F23645"/>
<line x1="590.46" y1="63.5" x2="590.46" y2="96.5" stroke="#089981" stroke-width="0.9"/>
<rect x="589.06" y="68.7" width="2.8" height="26.0" fill="#089981"/>
<line x1="593.93" y1="63.5" x2="593.93" y2="118.2" stroke="#F23645" stroke-width="0.9"/>
<rect x="592.53" y="68.7" width="2.8" height="20.8" fill="#F23645"/>
<line x1="597.40" y1="86.9" x2="597.40" y2="114.7" stroke="#F23645" stroke-width="0.9"/>
<rect x="596.00" y="88.6" width="2.8" height="14.8" fill="#F23645"/>
<line x1="600.86" y1="86.1" x2="600.86" y2="107.8" stroke="#089981" stroke-width="0.9"/>
<rect x="599.46" y="88.6" width="2.8" height="14.8" fill="#089981"/>
<line x1="604.33" y1="85.2" x2="604.33" y2="100.8" stroke="#F23645" stroke-width="0.9"/>
<rect x="602.93" y="89.5" width="2.8" height="9.6" fill="#F23645"/>
<line x1="607.80" y1="98.2" x2="607.80" y2="125.1" stroke="#F23645" stroke-width="0.9"/>
<rect x="606.40" y="99.1" width="2.8" height="13.0" fill="#F23645"/>
<line x1="611.26" y1="111.2" x2="611.26" y2="138.0" stroke="#F23645" stroke-width="0.9"/>
<rect x="609.86" y="112.1" width="2.8" height="25.2" fill="#F23645"/>
<line x1="614.73" y1="134.9" x2="614.73" y2="168.4" stroke="#F23645" stroke-width="0.9"/>
<rect x="613.33" y="136.4" width="2.8" height="17.5" fill="#F23645"/>
<line x1="618.19" y1="139.5" x2="618.19" y2="157.7" stroke="#089981" stroke-width="0.9"/>
<rect x="616.79" y="146.3" width="2.8" height="7.6" fill="#089981"/>
<line x1="621.66" y1="137.2" x2="621.66" y2="160.0" stroke="#089981" stroke-width="0.9"/>
<rect x="620.26" y="144.8" width="2.8" height="1.5" fill="#089981"/>
<line x1="625.13" y1="136.4" x2="625.13" y2="151.6" stroke="#F23645" stroke-width="0.9"/>
<rect x="623.73" y="145.6" width="2.8" height="5.3" fill="#F23645"/>
<line x1="628.59" y1="146.3" x2="628.59" y2="155.0" stroke="#089981" stroke-width="0.9"/>
<rect x="627.19" y="149.4" width="2.8" height="1.5" fill="#089981"/>
<line x1="632.06" y1="144.8" x2="632.06" y2="152.4" stroke="#F23645" stroke-width="0.9"/>
<rect x="630.66" y="149.4" width="2.8" height="2.2" fill="#F23645"/>
<line x1="635.53" y1="142.5" x2="635.53" y2="152.4" stroke="#089981" stroke-width="0.9"/>
<rect x="634.13" y="143.0" width="2.8" height="8.6" fill="#089981"/>
<line x1="638.99" y1="135.7" x2="638.99" y2="147.8" stroke="#F23645" stroke-width="0.9"/>
<rect x="637.59" y="143.0" width="2.8" height="1.0" fill="#F23645"/>
<line x1="642.46" y1="128.8" x2="642.46" y2="145.6" stroke="#089981" stroke-width="0.9"/>
<rect x="641.06" y="138.0" width="2.8" height="6.0" fill="#089981"/>
<line x1="645.92" y1="137.2" x2="645.92" y2="154.7" stroke="#F23645" stroke-width="0.9"/>
<rect x="644.52" y="138.0" width="2.8" height="15.9" fill="#F23645"/>
<line x1="649.39" y1="146.3" x2="649.39" y2="178.3" stroke="#F23645" stroke-width="0.9"/>
<rect x="647.99" y="153.9" width="2.8" height="23.6" fill="#F23645"/>
<line x1="652.86" y1="170.9" x2="652.86" y2="192.4" stroke="#F23645" stroke-width="0.9"/>
<rect x="651.46" y="176.5" width="2.8" height="12.2" fill="#F23645"/>
<rect x="597.2" y="136.4" width="69.3" height="24.2" fill="rgba(200,130,170,0.33)" stroke="#8E24AA" stroke-width="1.3"/>
<line x1="222.2" y1="307.7" x2="698" y2="98.6" stroke="#111" stroke-width="1.5"/>
<line x1="613.5" y1="136.9" x2="659.8" y2="136.9" stroke="#111" stroke-width="1.5"/>
<line x1="614" y1="167.7" x2="659.8" y2="136.9" stroke="#111" stroke-width="1.5"/>
<line x1="0" y1="343.3" x2="1024" y2="343.3" stroke="#F2EFD8" stroke-width="1.2"/>
<rect x="0" y="376.4" width="972" height="49" fill="rgba(126,87,194,0.10)"/>
<line x1="0" y1="376.4" x2="972" y2="376.4" stroke="rgba(80,80,100,0.6)" stroke-width="1" stroke-dasharray="3,3.3"/>
<line x1="0" y1="400.9" x2="972" y2="400.9" stroke="rgba(80,80,100,0.3)" stroke-width="1" stroke-dasharray="3,3.3"/>
<line x1="0" y1="425.4" x2="972" y2="425.4" stroke="rgba(80,80,100,0.6)" stroke-width="1" stroke-dasharray="3,3.3"/>
<defs><linearGradient id="ob" gradientUnits="userSpaceOnUse" x1="0" y1="339.6" x2="0" y2="376.4"><stop offset="0" stop-color="rgba(76,175,80,1)"/><stop offset="1" stop-color="rgba(76,175,80,0.05)"/></linearGradient></defs>
<clipPath id="above70"><rect x="0" y="340" width="972" height="36.4"/></clipPath>
<path d="M0.0,428.5 L4.4,425.0 L9.8,424.4 L14.6,423.5 L19.6,420.5 L22.5,416.5 L29.4,421.5 L35.2,416.5 L47.0,419.5 L56.8,417.5 L62.6,413.0 L66.5,418.5 L78.3,420.5 L88.1,419.5 L94.0,414.6 L97.9,398.9 L103.7,390.1 L111.6,398.0 L115.5,390.1 L125.3,398.9 L129.2,382.3 L139.0,381.3 L142.9,377.4 L146.4,388.2 L150.7,384.8 L157.6,394.0 L160.0,394.0 L163.9,390.1 L170.8,398.0 L173.7,396.0 L177.6,385.2 L181.5,384.8 L185.4,386.6 L190.3,386.6 L194.3,390.7 L198.2,392.1 L202.1,391.1 L206.0,405.4 L214.8,406.8 L219.7,402.8 L222.6,403.8 L226.5,395.4 L230.5,396.6 L233.4,400.5 L240.2,375.1 L244.2,373.5 L248.1,369.6 L253.0,369.2 L260.8,359.8 L264.7,370.6 L267.7,368.6 L271.6,372.5 L274.5,369.6 L278.4,379.0 L282.3,380.3 L288.2,377.4 L293.1,364.7 L296.0,363.3 L299.0,364.7 L304.8,353.5 L312.7,358.8 L316.6,356.9 L320.0,362.7 L322.9,371.5 L325.9,374.5 L329.8,379.4 L333.7,378.4 L337.6,384.8 L343.5,376.4 L347.4,377.8 L351.3,375.8 L358.2,391.1 L362.1,392.7 L365.0,405.8 L371.9,387.2 L375.8,387.2 L378.7,402.8 L384.6,401.9 L388.9,395.4 L392.8,404.4 L396.3,407.2 L402.2,396.0 L406.1,393.5 L410.0,397.0 L414.0,397.0 L417.3,389.5 L419.8,391.1 L423.3,390.1 L427.7,377.4 L434.5,367.6 L437.4,368.6 L444.3,364.7 L448.2,379.4 L451.1,381.3 L455.1,378.4 L458.0,383.3 L461.9,379.0 L465.8,378.4 L469.7,385.2 L474.6,387.2 L478.5,387.2 L482.5,391.1 L485.9,406.7 L488.8,405.8 L493.3,401.3 L499.6,408.7 L503.5,402.8 L507.0,400.5 L510.9,391.5 L513.7,390.7 L517.2,382.3 L524.0,379.3 L527.9,383.7 L533.8,384.2 L538.1,391.1 L541.6,384.2 L544.6,383.3 L548.9,375.8 L552.0,378.4 L555.3,377.0 L558.7,384.8 L562.2,380.9 L566.1,384.2 L572.0,396.0 L579.8,389.1 L583.7,389.1 L587.2,393.4 L590.0,383.7 L593.1,392.7 L597.0,400.5 L600.9,395.4 L605.2,400.9 L610.1,412.6 L614.6,418.1 L618.9,414.2 L624.8,416.1 L630.7,415.5 L635.0,411.6 L638.9,411.6 L642.4,408.3 L648.3,421.4 L652.2,425.8 L652.2,376.4 L0,376.4 Z" fill="url(#ob)" clip-path="url(#above70)" opacity="0.75"/>
<path d="M0.0,416.5 C5.0,417.2 20.0,419.9 30.0,421.0 C40.0,422.1 51.7,422.9 60.0,423.0 C68.3,423.1 74.3,422.2 80.0,421.5 C85.7,420.8 89.4,420.0 94.0,418.5 C98.6,417.0 103.8,414.4 107.7,412.6 C111.6,410.8 114.2,409.5 117.4,407.7 C120.7,405.9 123.9,404.2 127.2,401.9 C130.5,399.6 134.1,396.1 137.0,394.0 C139.9,391.9 142.2,390.1 144.8,389.1 C147.4,388.1 146.9,388.4 152.7,388.2 C158.5,388.0 173.5,388.0 179.6,388.2 C185.7,388.4 184.5,388.3 189.4,389.1 C194.3,389.9 203.4,392.0 208.9,393.1 C214.4,394.2 218.3,394.7 222.6,395.6 C226.8,396.5 230.8,398.6 234.4,398.5 C238.0,398.4 240.3,397.4 244.2,395.0 C248.1,392.6 253.0,387.7 257.9,384.3 C262.8,380.9 268.9,376.6 273.5,374.5 C278.1,372.4 280.7,372.3 285.3,371.5 C289.9,370.7 295.1,370.4 300.9,369.6 C306.7,368.8 314.9,367.2 320.0,366.6 C325.1,366.0 327.8,365.5 331.7,365.7 C335.6,365.9 339.6,366.5 343.5,367.6 C347.4,368.7 351.3,369.9 355.2,372.5 C359.1,375.1 363.1,380.9 367.0,383.3 C370.9,385.8 374.8,385.6 378.7,387.2 C382.6,388.8 386.6,391.4 390.5,393.1 C394.4,394.8 397.0,396.6 402.2,397.4 C407.4,398.1 416.6,399.0 421.8,397.6 C427.0,396.2 429.6,391.7 433.5,389.1 C437.4,386.6 441.4,384.1 445.3,382.3 C449.2,380.5 453.1,379.4 457.0,378.4 C460.9,377.3 465.5,376.2 468.8,376.0 C472.1,375.8 473.9,376.1 476.6,377.0 C479.3,377.9 482.5,379.8 485.0,381.3 C487.5,382.8 488.6,384.2 491.7,386.2 C494.8,388.2 499.9,391.5 503.5,393.1 C507.1,394.7 509.1,395.9 513.3,396.0 C517.5,396.1 524.0,395.2 528.9,394.0 C533.8,392.8 538.4,390.4 542.6,388.7 C546.8,387.0 550.7,384.9 554.3,383.7 C557.9,382.5 560.8,381.6 564.1,381.7 C567.4,381.8 570.3,383.5 573.9,384.2 C577.5,384.9 581.8,384.9 585.7,385.6 C589.6,386.3 593.8,387.1 597.4,388.2 C601.0,389.3 603.9,390.5 607.2,392.1 C610.5,393.7 613.4,396.1 617.0,397.9 C620.6,399.7 624.8,401.2 628.7,402.8 C632.6,404.4 636.5,405.8 640.4,407.7 C644.3,409.6 650.2,413.1 652.2,414.2" fill="none" stroke="#F9D53A" stroke-width="1"/>
<path d="M0.0,428.5 L4.4,425.0 L9.8,424.4 L14.6,423.5 L19.6,420.5 L22.5,416.5 L29.4,421.5 L35.2,416.5 L47.0,419.5 L56.8,417.5 L62.6,413.0 L66.5,418.5 L78.3,420.5 L88.1,419.5 L94.0,414.6 L97.9,398.9 L103.7,390.1 L111.6,398.0 L115.5,390.1 L125.3,398.9 L129.2,382.3 L139.0,381.3 L142.9,377.4 L146.4,388.2 L150.7,384.8 L157.6,394.0 L160.0,394.0 L163.9,390.1 L170.8,398.0 L173.7,396.0 L177.6,385.2 L181.5,384.8 L185.4,386.6 L190.3,386.6 L194.3,390.7 L198.2,392.1 L202.1,391.1 L206.0,405.4 L214.8,406.8 L219.7,402.8 L222.6,403.8 L226.5,395.4 L230.5,396.6 L233.4,400.5 L240.2,375.1 L244.2,373.5 L248.1,369.6 L253.0,369.2 L260.8,359.8 L264.7,370.6 L267.7,368.6 L271.6,372.5 L274.5,369.6 L278.4,379.0 L282.3,380.3 L288.2,377.4 L293.1,364.7 L296.0,363.3 L299.0,364.7 L304.8,353.5 L312.7,358.8 L316.6,356.9 L320.0,362.7 L322.9,371.5 L325.9,374.5 L329.8,379.4 L333.7,378.4 L337.6,384.8 L343.5,376.4 L347.4,377.8 L351.3,375.8 L358.2,391.1 L362.1,392.7 L365.0,405.8 L371.9,387.2 L375.8,387.2 L378.7,402.8 L384.6,401.9 L388.9,395.4 L392.8,404.4 L396.3,407.2 L402.2,396.0 L406.1,393.5 L410.0,397.0 L414.0,397.0 L417.3,389.5 L419.8,391.1 L423.3,390.1 L427.7,377.4 L434.5,367.6 L437.4,368.6 L444.3,364.7 L448.2,379.4 L451.1,381.3 L455.1,378.4 L458.0,383.3 L461.9,379.0 L465.8,378.4 L469.7,385.2 L474.6,387.2 L478.5,387.2 L482.5,391.1 L485.9,406.7 L488.8,405.8 L493.3,401.3 L499.6,408.7 L503.5,402.8 L507.0,400.5 L510.9,391.5 L513.7,390.7 L517.2,382.3 L524.0,379.3 L527.9,383.7 L533.8,384.2 L538.1,391.1 L541.6,384.2 L544.6,383.3 L548.9,375.8 L552.0,378.4 L555.3,377.0 L558.7,384.8 L562.2,380.9 L566.1,384.2 L572.0,396.0 L579.8,389.1 L583.7,389.1 L587.2,393.4 L590.0,383.7 L593.1,392.7 L597.0,400.5 L600.9,395.4 L605.2,400.9 L610.1,412.6 L614.6,418.1 L618.9,414.2 L624.8,416.1 L630.7,415.5 L635.0,411.6 L638.9,411.6 L642.4,408.3 L648.3,421.4 L652.2,425.8" fill="none" stroke="#8560C6" stroke-width="0.95"/>
<text x="1021.6" y="10.5" font-size="9.3" fill="#1E1E1E" text-anchor="end" font-weight="normal" stroke="#1E1E1E" stroke-width="0.12" font-family="Liberation Sans, sans-serif"  textLength="42.53" lengthAdjust="spacingAndGlyphs">150,000.00</text>
<text x="1021.6" y="33.7" font-size="9.3" fill="#1E1E1E" text-anchor="end" font-weight="normal" stroke="#1E1E1E" stroke-width="0.12" font-family="Liberation Sans, sans-serif"  textLength="42.53" lengthAdjust="spacingAndGlyphs">140,000.00</text>
<text x="1021.6" y="56.9" font-size="9.3" fill="#1E1E1E" text-anchor="end" font-weight="normal" stroke="#1E1E1E" stroke-width="0.12" font-family="Liberation Sans, sans-serif"  textLength="42.53" lengthAdjust="spacingAndGlyphs">130,000.00</text>
<text x="1021.6" y="80.1" font-size="9.3" fill="#1E1E1E" text-anchor="end" font-weight="normal" stroke="#1E1E1E" stroke-width="0.12" font-family="Liberation Sans, sans-serif"  textLength="42.53" lengthAdjust="spacingAndGlyphs">120,000.00</text>
<text x="1021.6" y="103.3" font-size="9.3" fill="#1E1E1E" text-anchor="end" font-weight="normal" stroke="#1E1E1E" stroke-width="0.12" font-family="Liberation Sans, sans-serif"  textLength="42.53" lengthAdjust="spacingAndGlyphs">110,000.00</text>
<text x="1021.6" y="242.6" font-size="9.3" fill="#1E1E1E" text-anchor="end" font-weight="normal" stroke="#1E1E1E" stroke-width="0.12" font-family="Liberation Sans, sans-serif"  textLength="37.81" lengthAdjust="spacingAndGlyphs">50,000.00</text>
<text x="1021.6" y="265.9" font-size="9.3" fill="#1E1E1E" text-anchor="end" font-weight="normal" stroke="#1E1E1E" stroke-width="0.12" font-family="Liberation Sans, sans-serif"  textLength="37.81" lengthAdjust="spacingAndGlyphs">40,000.00</text>
<text x="1021.6" y="289.1" font-size="9.3" fill="#1E1E1E" text-anchor="end" font-weight="normal" stroke="#1E1E1E" stroke-width="0.12" font-family="Liberation Sans, sans-serif"  textLength="37.81" lengthAdjust="spacingAndGlyphs">30,000.00</text>
<text x="1021.6" y="312.3" font-size="9.3" fill="#1E1E1E" text-anchor="end" font-weight="normal" stroke="#1E1E1E" stroke-width="0.12" font-family="Liberation Sans, sans-serif"  textLength="37.81" lengthAdjust="spacingAndGlyphs">20,000.00</text>
<text x="1021.6" y="335.5" font-size="9.3" fill="#1E1E1E" text-anchor="end" font-weight="normal" stroke="#1E1E1E" stroke-width="0.12" font-family="Liberation Sans, sans-serif"  textLength="37.81" lengthAdjust="spacingAndGlyphs">10,000.00</text>
<clipPath id="rsiclip"><rect x="960" y="345" width="64" height="94"/></clipPath>
<text x="1003.5" y="367.0" font-size="9.3" fill="#1E1E1E" text-anchor="end" font-weight="normal" stroke="#1E1E1E" stroke-width="0.12" font-family="Liberation Sans, sans-serif" clip-path="url(#rsiclip)" textLength="21.27" lengthAdjust="spacingAndGlyphs">80.00</text>
<text x="1003.5" y="391.4" font-size="9.3" fill="#1E1E1E" text-anchor="end" font-weight="normal" stroke="#1E1E1E" stroke-width="0.12" font-family="Liberation Sans, sans-serif" clip-path="url(#rsiclip)" textLength="21.27" lengthAdjust="spacingAndGlyphs">60.00</text>
<text x="1003.5" y="440.5" font-size="9.3" fill="#1E1E1E" text-anchor="end" font-weight="normal" stroke="#1E1E1E" stroke-width="0.12" font-family="Liberation Sans, sans-serif" clip-path="url(#rsiclip)" textLength="21.27" lengthAdjust="spacingAndGlyphs">20.00</text>
<rect x="973" y="57.2" width="51.0" height="11.7" fill="#F23645"/>
<text x="979.8" y="66.4" font-size="9.3" fill="#fff" text-anchor="start" font-weight="normal" stroke="#fff" stroke-width="0.12" font-family="Liberation Sans, sans-serif"  textLength="42.53" lengthAdjust="spacingAndGlyphs">126,095.08</text>
<rect x="973" y="96.8" width="51.0" height="12.0" fill="#1FB8CF"/>
<text x="979.8" y="106.1" font-size="9.3" fill="#131722" text-anchor="start" font-weight="normal" stroke="#131722" stroke-width="0.12" font-family="Liberation Sans, sans-serif"  textLength="42.53" lengthAdjust="spacingAndGlyphs">104,791.32</text>
<rect x="973" y="110.0" width="47.3" height="11.4" fill="#1FB8CF"/>
<text x="979.8" y="119.0" font-size="9.3" fill="#131722" text-anchor="start" font-weight="normal" stroke="#131722" stroke-width="0.12" font-family="Liberation Sans, sans-serif"  textLength="37.81" lengthAdjust="spacingAndGlyphs">97,895.01</text>
<rect x="973" y="122.2" width="47.3" height="11.3" fill="#FF8000"/>
<text x="979.8" y="131.2" font-size="9.3" fill="#fff" text-anchor="start" font-weight="normal" stroke="#fff" stroke-width="0.12" font-family="Liberation Sans, sans-serif"  textLength="37.81" lengthAdjust="spacingAndGlyphs">95,323.98</text>
<rect x="973" y="134.4" width="47.3" height="11.3" fill="#FF0000"/>
<text x="979.8" y="143.4" font-size="9.3" fill="#fff" text-anchor="start" font-weight="normal" stroke="#fff" stroke-width="0.12" font-family="Liberation Sans, sans-serif"  textLength="37.81" lengthAdjust="spacingAndGlyphs">92,748.73</text>
<rect x="973" y="146.8" width="47.3" height="11.3" fill="#00FFFF"/>
<text x="979.8" y="155.8" font-size="9.3" fill="#131722" text-anchor="start" font-weight="normal" stroke="#131722" stroke-width="0.12" font-family="Liberation Sans, sans-serif"  textLength="37.81" lengthAdjust="spacingAndGlyphs">85,733.28</text>
<rect x="973" y="159.1" width="47.3" height="11.3" fill="#5AA95A"/>
<text x="979.8" y="168.1" font-size="9.3" fill="#fff" text-anchor="start" font-weight="normal" stroke="#fff" stroke-width="0.12" font-family="Liberation Sans, sans-serif"  textLength="37.81" lengthAdjust="spacingAndGlyphs">80,778.68</text>
<rect x="973" y="171.2" width="47.3" height="11.1" fill="#1FB8CF"/>
<text x="979.8" y="180.1" font-size="9.3" fill="#131722" text-anchor="start" font-weight="normal" stroke="#131722" stroke-width="0.12" font-family="Liberation Sans, sans-serif"  textLength="37.81" lengthAdjust="spacingAndGlyphs">76,533.71</text>
<rect x="973" y="183.2" width="47.3" height="21.1" fill="#F23645"/>
<text x="979.8" y="192.3" font-size="9.3" fill="#fff" text-anchor="start" font-weight="normal" stroke="#fff" stroke-width="0.12" font-family="Liberation Sans, sans-serif"  textLength="37.81" lengthAdjust="spacingAndGlyphs">71,716.26</text>
<text x="979.8" y="202.3" font-size="9.3" fill="#fff" text-anchor="start" font-weight="normal" stroke="#fff" stroke-width="0.12" font-family="Liberation Sans, sans-serif"  textLength="25.99" lengthAdjust="spacingAndGlyphs">3d 15h</text>
<rect x="973" y="205.6" width="47.3" height="11.0" fill="#5AA95A"/>
<text x="979.8" y="214.4" font-size="9.3" fill="#fff" text-anchor="start" font-weight="normal" stroke="#fff" stroke-width="0.12" font-family="Liberation Sans, sans-serif"  textLength="37.81" lengthAdjust="spacingAndGlyphs">69,956.86</text>
<rect x="973" y="217.9" width="47.3" height="11.7" fill="#0000FF"/>
<text x="979.8" y="227.1" font-size="9.3" fill="#fff" text-anchor="start" font-weight="normal" stroke="#fff" stroke-width="0.12" font-family="Liberation Sans, sans-serif"  textLength="37.81" lengthAdjust="spacingAndGlyphs">68,073.84</text>
<rect x="973" y="408.1" width="30.7" height="10.9" fill="#FDD835"/>
<text x="979.8" y="416.9" font-size="9.3" fill="#131722" text-anchor="start" font-weight="normal" stroke="#131722" stroke-width="0.12" font-family="Liberation Sans, sans-serif"  textLength="21.27" lengthAdjust="spacingAndGlyphs">38.65</text>
<rect x="973" y="420.2" width="30.7" height="11.8" fill="#7E57C2"/>
<text x="979.8" y="429.4" font-size="9.3" fill="#fff" text-anchor="start" font-weight="normal" stroke="#fff" stroke-width="0.12" font-family="Liberation Sans, sans-serif"  textLength="21.27" lengthAdjust="spacingAndGlyphs">29.67</text>
<rect x="972.9" y="331.1" width="41.8" height="11.7" fill="#EF5350"/>
<text x="979.6" y="340.3" font-size="9.3" fill="#fff" text-anchor="start" font-weight="normal" stroke="#fff" stroke-width="0.12" font-family="Liberation Sans, sans-serif"  textLength="34.03" lengthAdjust="spacingAndGlyphs">144.87 K</text>
<polygon points="1005.7,449.5 1003.1,454 997.9,454 995.3,449.5 997.9,445 1003.1,445" fill="none" stroke="#131722" stroke-width="1"/>
<circle cx="1000.5" cy="449.5" r="1.5" fill="none" stroke="#131722" stroke-width="0.9"/>
<text x="4.3" y="453.2" font-size="9" fill="#131722" text-anchor="middle" font-weight="normal" stroke="#131722" stroke-width="0.12" font-family="Liberation Sans, sans-serif" >Jul</text>
<text x="94.5" y="453.2" font-size="9" fill="#131722" text-anchor="middle" font-weight="bold" stroke="#131722" stroke-width="0.12" font-family="Liberation Sans, sans-serif" >2023</text>
<text x="184.8" y="453.2" font-size="9" fill="#131722" text-anchor="middle" font-weight="normal" stroke="#131722" stroke-width="0.12" font-family="Liberation Sans, sans-serif" >Jul</text>
<text x="275" y="453.2" font-size="9" fill="#131722" text-anchor="middle" font-weight="bold" stroke="#131722" stroke-width="0.12" font-family="Liberation Sans, sans-serif" >2024</text>
<text x="365.3" y="453.2" font-size="9" fill="#131722" text-anchor="middle" font-weight="normal" stroke="#131722" stroke-width="0.12" font-family="Liberation Sans, sans-serif" >Jul</text>
<text x="458.6" y="453.2" font-size="9" fill="#131722" text-anchor="middle" font-weight="bold" stroke="#131722" stroke-width="0.12" font-family="Liberation Sans, sans-serif" >2025</text>
<text x="548.8" y="453.2" font-size="9" fill="#131722" text-anchor="middle" font-weight="normal" stroke="#131722" stroke-width="0.12" font-family="Liberation Sans, sans-serif" >Jul</text>
<text x="638.8" y="453.2" font-size="9" fill="#131722" text-anchor="middle" font-weight="bold" stroke="#131722" stroke-width="0.12" font-family="Liberation Sans, sans-serif" >2026</text>
<text x="728.9" y="453.2" font-size="9" fill="#131722" text-anchor="middle" font-weight="normal" stroke="#131722" stroke-width="0.12" font-family="Liberation Sans, sans-serif" >Jul</text>
<text x="818.9" y="453.2" font-size="9" fill="#131722" text-anchor="middle" font-weight="bold" stroke="#131722" stroke-width="0.12" font-family="Liberation Sans, sans-serif" >2027</text>
<text x="909.2" y="453.2" font-size="9" fill="#131722" text-anchor="middle" font-weight="normal" stroke="#131722" stroke-width="0.12" font-family="Liberation Sans, sans-serif" >Jul</text>
<circle cx="13.8" cy="4.6" r="3.9" fill="#1E9E96"/>
<text x="13.9" y="6.9" font-size="5.5" fill="#E6F6F4" text-anchor="middle" font-weight="bold" font-family="Liberation Sans, sans-serif">T</text>
<circle cx="9.3" cy="9.3" r="4.5" fill="#F29422" stroke="#FFF59D" stroke-width="0.9"/>
<text x="9.3" y="11.7" font-size="6.2" fill="#FFF3E0" text-anchor="middle" font-weight="bold" font-family="Liberation Sans, sans-serif">B</text>
<text x="20.8" y="11.0" font-size="10.6" fill="#1C1C1C" textLength="167.5" lengthAdjust="spacing" stroke="#1C1C1C" stroke-width="0.25" font-family="Liberation Sans, sans-serif">Bitcoin / TetherUS · 1W · Binance</text>
<circle cx="201.2" cy="6.6" r="5.4" fill="rgba(8,153,129,0.18)"/>
<circle cx="201.2" cy="6.6" r="2.8" fill="#089981"/>
<text x="213.5" y="10.8" font-size="9" font-family="Liberation Sans, sans-serif"><tspan fill="#131722">O</tspan><tspan fill="#F23645">76,968.22</tspan></text>
<text x="265.6" y="10.8" font-size="9" font-family="Liberation Sans, sans-serif"><tspan fill="#131722">H</tspan><tspan fill="#F23645">79,360.00</tspan></text>
<text x="317.7" y="10.8" font-size="9" font-family="Liberation Sans, sans-serif"><tspan fill="#131722">L</tspan><tspan fill="#F23645">70,140.00</tspan></text>
<text x="369.8" y="10.8" font-size="9" font-family="Liberation Sans, sans-serif"><tspan fill="#131722">C</tspan><tspan fill="#F23645">71,716.26</tspan></text>
<text x="421.2" y="10.8" font-size="9" fill="#F23645" font-family="Liberation Sans, sans-serif">−5,251.95 (−6.82%)</text>
<rect x="4.8" y="18.8" width="56.6" height="23.6" rx="3.5" fill="#FFFEF6" stroke="#F4707A" stroke-width="1"/>
<text x="32.7" y="28.8" font-size="9" fill="#F23645" text-anchor="middle" font-weight="bold" stroke="#F23645" stroke-width="0.12" font-family="Liberation Sans, sans-serif" textLength="41" lengthAdjust="spacing">71,716.25</text>
<text x="32.2" y="38.7" font-size="8.3" fill="#F23645" text-anchor="middle" font-weight="normal" stroke="#F23645" stroke-width="0.12" font-family="Liberation Sans, sans-serif" textLength="17" lengthAdjust="spacingAndGlyphs">SELL</text>
<text x="73.9" y="33.3" font-size="8.3" fill="#2A2A2A" text-anchor="middle" font-weight="normal" stroke="#2A2A2A" stroke-width="0.12" font-family="Liberation Sans, sans-serif" textLength="13.3" lengthAdjust="spacingAndGlyphs">0.01</text>
<rect x="88" y="18.8" width="55" height="23.6" rx="3.5" fill="#FFFEF6" stroke="#6F8FF5" stroke-width="1"/>
<text x="115.5" y="28.8" font-size="9" fill="#2962FF" text-anchor="middle" font-weight="bold" stroke="#2962FF" stroke-width="0.12" font-family="Liberation Sans, sans-serif" textLength="41" lengthAdjust="spacing">71,716.26</text>
<text x="115.5" y="38.7" font-size="8.3" fill="#2962FF" text-anchor="middle" font-weight="normal" stroke="#2962FF" stroke-width="0.12" font-family="Liberation Sans, sans-serif" textLength="14.8" lengthAdjust="spacingAndGlyphs">BUY</text>
<rect x="4.8" y="48.3" width="21.6" height="13.6" rx="2.5" fill="rgba(255,255,255,0.12)" stroke="rgba(0,0,0,0.12)" stroke-width="1"/>
<polyline points="9.3,54.3 11.8,56.8 14.3,54.3" fill="none" stroke="#131722" stroke-width="1.1"/>
<text x="20.6" y="57.9" font-size="9" fill="#131722" text-anchor="middle" font-weight="normal" stroke="#131722" stroke-width="0.12" font-family="Liberation Sans, sans-serif" >2</text>
<circle cx="653" cy="333.6" r="7" fill="#FFFDF5" stroke="#9C27B0" stroke-width="1.4"/>
<path d="M654.6,328.6 L650.2,334.2 L653.2,334.2 L651.6,338.6 L656,333 L653,333 Z" fill="#9C27B0"/>
<circle cx="657.9" cy="328.4" r="1.9" fill="#F23645"/>
<g stroke="#FFFFFF" stroke-width="2.4" stroke-linejoin="round" paint-order="stroke"><path d="M7.0,418.1 H15.7 V428.6 H11.2 V422.5 H7.0 Z" fill="#111"/><circle cx="19.2" cy="420.2" r="1.8" fill="#111"/><path d="M23.1,418.1 H28.2 L24.4,428.6 H19.0 Z" fill="#111"/></g>
<text x="33.6" y="429.3" font-size="15" font-weight="bold" fill="#111" stroke="#fff" stroke-width="2.4" stroke-linejoin="round" paint-order="stroke" font-family="Liberation Sans, sans-serif">TradingView</text>
<line x1="0" y1="459.5" x2="1024" y2="459.5" stroke="#F3F0E0" stroke-width="1"/>
</svg>
</body></html>
